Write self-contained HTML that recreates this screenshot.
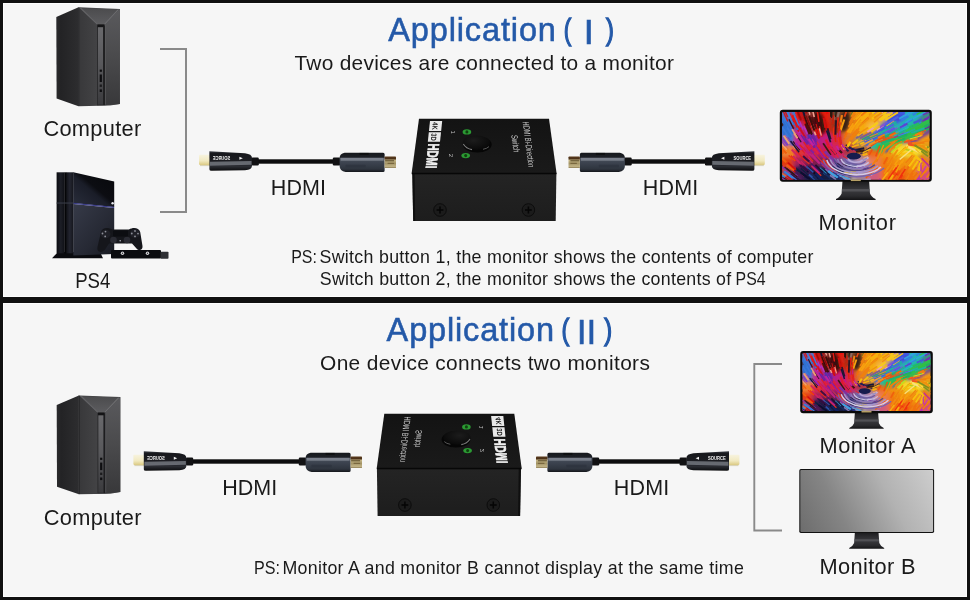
<!DOCTYPE html>
<html lang="en">
<head>
<meta charset="utf-8">
<title>HDMI Bi-Direction Switch - Application</title>
<style>
html,body{margin:0;padding:0;background:#111;}
body{width:970px;height:600px;background:#111;position:relative;overflow:hidden;font-family:"Liberation Sans", sans-serif;}
.panel{position:absolute;left:3px;width:964px;height:294px;box-sizing:border-box;background:#f6f6f6;border:1px solid #fdfdfd;}
#p1{top:3px;}
#p2{top:303px;}
svg{position:absolute;left:0;top:0;will-change:transform;}
text{font-family:"Liberation Sans", sans-serif;}
</style>
</head>
<body>
<div class="panel" id="p1"></div>
<div class="panel" id="p2"></div>
<svg width="970" height="600" viewBox="0 0 970 600">

<defs>
  <linearGradient id="tw_side" x1="0" y1="0" x2="1" y2="0">
    <stop offset="0" stop-color="#2b2b2d"/><stop offset=".2" stop-color="#232325"/><stop offset="1" stop-color="#2d2d2f"/>
  </linearGradient>
  <linearGradient id="tw_front" x1="0" y1="0" x2="1" y2="0">
    <stop offset="0" stop-color="#38383a"/><stop offset=".45" stop-color="#434345"/><stop offset=".66" stop-color="#4c4c4e"/><stop offset="1" stop-color="#3f3f41"/>
  </linearGradient>
  <linearGradient id="tw_rp" x1="0" y1="0" x2="0" y2="1">
    <stop offset="0" stop-color="#5a5a5d"/><stop offset=".5" stop-color="#4a4a4c"/><stop offset="1" stop-color="#38383a"/>
  </linearGradient>
  <linearGradient id="tw_v" x1="0" y1="0" x2="0" y2="1">
    <stop offset="0" stop-color="#4b4b4d"/><stop offset="1" stop-color="#5c5c5f"/>
  </linearGradient>
  <linearGradient id="tw_strip" x1="0" y1="0" x2="0" y2="1">
    <stop offset="0" stop-color="#6a6a6d"/><stop offset=".5" stop-color="#58585b"/><stop offset="1" stop-color="#3a3a3d"/>
  </linearGradient>
  <linearGradient id="ps_side" x1="0" y1="0" x2="1" y2="0">
    <stop offset="0" stop-color="#0b0c10"/><stop offset=".5" stop-color="#1c1e26"/><stop offset="1" stop-color="#0e0f14"/>
  </linearGradient>
  <linearGradient id="ps_side2" x1="0" y1="0" x2="1" y2="0">
    <stop offset="0" stop-color="#101116"/><stop offset=".5" stop-color="#232530"/><stop offset="1" stop-color="#14151b"/>
  </linearGradient>
  <linearGradient id="ps_top" x1="0" y1="1" x2="1" y2="0">
    <stop offset="0" stop-color="#2a2e3c"/><stop offset=".45" stop-color="#1a1d28"/><stop offset=".55" stop-color="#0c0d12"/><stop offset="1" stop-color="#07080b"/>
  </linearGradient>
  <linearGradient id="ps_bot" x1="0" y1="0" x2="1" y2="1">
    <stop offset="0" stop-color="#363a48"/><stop offset=".6" stop-color="#262934"/><stop offset="1" stop-color="#171920"/>
  </linearGradient>
  <linearGradient id="cb_cream" x1="0" y1="0" x2="0" y2="1">
    <stop offset="0" stop-color="#f7f3df"/><stop offset=".6" stop-color="#f1e9c0"/><stop offset="1" stop-color="#dccb84"/>
  </linearGradient>
  <linearGradient id="cb_gold" x1="0" y1="0" x2="0" y2="1">
    <stop offset="0" stop-color="#5a3a1c"/><stop offset=".2" stop-color="#4a3018"/><stop offset=".32" stop-color="#c8b888"/><stop offset=".6" stop-color="#a39466"/><stop offset=".85" stop-color="#c2b386"/><stop offset="1" stop-color="#8a7a52"/>
  </linearGradient>
  <linearGradient id="cb_left" x1="0" y1="0" x2="0" y2="1">
    <stop offset="0" stop-color="#3b3e45"/><stop offset=".12" stop-color="#17181c"/><stop offset=".5" stop-color="#1c1d22"/><stop offset=".78" stop-color="#2a2c32"/><stop offset="1" stop-color="#0c0c0e"/>
  </linearGradient>
  <linearGradient id="cb_right" x1="0" y1="0" x2="0" y2="1">
    <stop offset="0" stop-color="#16181c"/><stop offset=".24" stop-color="#1d2026"/><stop offset=".3" stop-color="#4c525e"/><stop offset=".5" stop-color="#3d4450"/><stop offset=".85" stop-color="#2e343e"/><stop offset="1" stop-color="#15171b"/>
  </linearGradient>
  <linearGradient id="sw_front" x1="0" y1="0" x2="0" y2="1">
    <stop offset="0" stop-color="#242424"/><stop offset="1" stop-color="#1d1d1d"/>
  </linearGradient>
  <linearGradient id="sw_top" x1="0" y1="0" x2="0" y2="1">
    <stop offset="0" stop-color="#131313"/><stop offset="1" stop-color="#1a1a1a"/>
  </linearGradient>
  <radialGradient id="sw_btn" cx=".4" cy=".35" r=".8">
    <stop offset="0" stop-color="#1c1c1c"/><stop offset="1" stop-color="#050505"/>
  </radialGradient>
  <linearGradient id="st_g" x1="0" y1="0" x2="0" y2="1">
    <stop offset="0" stop-color="#1a1a1c"/><stop offset=".5" stop-color="#3a3a3e"/><stop offset=".8" stop-color="#2a2a2d"/><stop offset="1" stop-color="#141416"/>
  </linearGradient>
  <linearGradient id="mon_gray" gradientUnits="userSpaceOnUse" x1="799" y1="532" x2="930.8" y2="462.6">
    <stop offset="0" stop-color="#6c6c6c"/><stop offset=".3" stop-color="#858585"/><stop offset=".65" stop-color="#b2b2b2"/><stop offset="1" stop-color="#cecece"/>
  </linearGradient>
  <filter id="wb_base" x="-20%" y="-30%" width="140%" height="160%"><feGaussianBlur stdDeviation="2.2"/></filter>
  <filter id="wb_band" x="-20%" y="-30%" width="140%" height="160%"><feGaussianBlur stdDeviation="1.6"/></filter>
  <filter id="wb_streak" x="-5%" y="-5%" width="110%" height="110%"><feGaussianBlur stdDeviation="0.6"/></filter>
</defs>
<path d="M160,49 H186 V212 H160" fill="none" stroke="#8a8a8a" stroke-width="2"/>
<path d="M782,364 H754.3 V530.5 H782" fill="none" stroke="#8a8a8a" stroke-width="1.9"/>

<g transform="translate(0,0)">
  <polygon points="56.3,17 78.5,7.3 78.5,106.2 56.6,98.6" fill="url(#tw_side)"/>
  <polygon points="78.5,7.3 119.9,9 119.9,104 110,105.6 78.5,106.2" fill="url(#tw_front)"/>
  <polygon points="79.5,8 119.3,9.6 105,24.5 97,24.5" fill="url(#tw_v)"/>
  <polygon points="79.5,8 81.5,8 98.2,24.5 97,24.5" fill="#6a6a6c" opacity=".7"/>
  <polygon points="119.3,9.6 117.6,9.5 103.8,24.5 105,24.5" fill="#77777a" opacity=".7"/>
  <polygon points="105,24.5 119.9,9 119.9,104 105,105.3" fill="url(#tw_rp)"/>
  <rect x="97" y="24.5" width="8" height="80.8" fill="#2b2b2d"/>
  <rect x="98" y="25.5" width="5" height="79" fill="url(#tw_strip)"/>
  <rect x="97.6" y="24.6" width="6.4" height="2.6" fill="#141416"/>
  <rect x="103.4" y="26" width="1.3" height="79" fill="#1d1d1f"/>
  <rect x="105" y="24.5" width="0.8" height="80" fill="#5c5c5f" opacity=".8"/>
  <rect x="78.1" y="7.5" width="1.1" height="98.5" fill="#1c1c1e" opacity=".8"/>
  <rect x="99.7" y="69.6" width="2.2" height="2.2" fill="#0e0e10"/>
  <rect x="99.7" y="74.5" width="2.2" height="7.5" fill="#0e0e10"/>
  <rect x="99.7" y="84.5" width="2.2" height="2.4" fill="#1b1b1d"/>
  <rect x="99.7" y="89.4" width="2.2" height="2.6" fill="#0e0e10"/>
</g>

<g>
  <!-- base -->
  <polygon points="52,258.2 58,252 100,252 103,258.2" fill="#0a0b0f"/>
  <!-- side slabs -->
  <rect x="56.6" y="172.3" width="8.2" height="81" fill="url(#ps_side)"/>
  <rect x="66" y="172.3" width="7.6" height="81" fill="url(#ps_side2)"/>
  <rect x="64.6" y="172.3" width="1.6" height="81" fill="#050608"/>
  <!-- front top half -->
  <polygon points="73.3,172.3 114.2,181.4 114.2,207 73.3,203" fill="url(#ps_top)"/>
  <!-- front bottom half -->
  <polygon points="73.3,204 114.2,208 114.2,254 73.3,255.5" fill="url(#ps_bot)"/>
  <polygon points="73.3,202.8 114.2,206.8 114.2,207.9 73.3,204" fill="#2a2c80" opacity=".9"/>
  <rect x="56.6" y="202.4" width="17" height="1.3" fill="#3a3d48" opacity=".8"/>
  <circle cx="112.6" cy="203.3" r="1.2" fill="#e8e8ee"/>
  <!-- controller -->
  <path d="M101,232 C102,227.5 108,227 112,229.5 L129,229.5 C133,227 139,227.5 140.2,232 L142.5,246 C143,250 139,251.5 136.5,248.5 L132,243.5 L109,243.5 L105,249.5 C102,253.5 96.5,252.5 97.5,247 Z" fill="#15161b"/>
  <ellipse cx="105.5" cy="234" rx="5" ry="4.3" fill="#1f2027"/>
  <ellipse cx="135" cy="233.5" rx="5" ry="4.3" fill="#1f2027"/>
  <circle cx="113.5" cy="240" r="3.3" fill="#2a2b33"/>
  <circle cx="127" cy="240" r="3.3" fill="#2a2b33"/>
  <rect x="113" y="230.5" width="15" height="6" rx="1" fill="#0c0d11"/>
  <circle cx="102.500" cy="233.500" r="0.9" fill="#8d8f98"/><circle cx="105.5" cy="231.6" r="0.9" fill="#8d8f98"/><circle cx="105.2" cy="236.400" r="0.9" fill="#8d8f98"/>
  <circle cx="131.8" cy="233.500" r="0.9" fill="#8d8f98"/><circle cx="135" cy="231" r="0.9" fill="#8d8f98"/><circle cx="138" cy="233.6" r="0.9" fill="#8d8f98"/><circle cx="135" cy="236.4" r="0.9" fill="#8d8f98"/>
  <circle cx="120.2" cy="240.7" r="0.8" fill="#b0b2ba"/>
  <!-- camera bar -->
  <rect x="111" y="250" width="50" height="8.6" rx="1" fill="#0b0c0f"/>
  <rect x="160.5" y="251.800" width="8" height="7" rx="0.8" fill="#2e2f33"/>
  <circle cx="122.500" cy="253.3" r="1.7" fill="#d8d8dc"/><circle cx="122.5" cy="253.300" r="0.7" fill="#333"/>
  <circle cx="147.5" cy="253.3" r="1.7" fill="#d8d8dc"/><circle cx="147.500" cy="253.3" r="0.7" fill="#333"/>
</g>
<g transform="translate(199,161.5)">
<rect x="58" y="-2.2" width="84.6" height="4.4" fill="#0d0d0e"/>
<rect x="52.5" y="-3.9" width="7.3" height="7.9" rx="1.2" fill="#111113"/>
<rect x="133.8" y="-3.9" width="7.5" height="7.900" rx="1.2" fill="#111113"/>
<rect x="0" y="-6.8" width="11.5" height="10.2" rx="0.8" fill="url(#cb_cream)"/>
<rect x="1" y="3.4" width="10" height="1.2" fill="#cfc6a0" opacity=".7"/>
<path d="M10.4,-10.2 L46,-8.200 Q53,-7.3 53,-3.600 L53,4.4 Q53,8 46,8.700 L12.5,9.3 Q10.4,9.3 10.4,7.800 Z" fill="url(#cb_left)"/>
<path d="M11,0.2 L52.5,-0.6 L52.5,3.2 L11,4.2 Z" fill="#7d818a" opacity=".75"/>
<path d="M145.6,-8.8 L184.1,-8.8 Q185.6,-8.8 185.6,-7.3 L185.6,9 Q185.6,10.5 184.1,10.5 L146.6,10.5 Q140.6,9.5 140.6,4.5 L140.6,-3.5 Q140.6,-8 145.6,-8.8 Z" fill="url(#cb_right)"/>
<rect x="141.6" y="-3.7" width="43" height="2.9" fill="#858b96" opacity=".8"/>
<rect x="160.6" y="-8.6" width="9" height="2" fill="#0b0c0e" opacity=".8"/>
<rect x="185.6" y="-5" width="11.4" height="11.6" rx="0.7" fill="url(#cb_gold)"/>
<rect x="186.1" y="-1.3" width="9" height="1.1" fill="#4a3a1c" opacity=".8"/>
<rect x="188.6" y="1.3" width="6.5" height="1" fill="#5a4622" opacity=".7"/>
<text x="0" y="0" transform="translate(31.3,-1.8) scale(-1,1)" font-family='"Liberation Sans", sans-serif' font-weight="700" font-size="4.6" fill="#f2f2f2" textLength="17.6" lengthAdjust="spacingAndGlyphs">SOURCE</text>
<polygon points="40.4,-4.8 43.8,-3.3 40.4,-1.7" fill="#f2f2f2"/>
<rect x="146.6" y="3.2" width="20" height="2.6" rx="0.6" fill="#2a303a" opacity=".55"/>
</g>

<g transform="translate(0,0)">
  <polygon points="412.3,173 556.4,173 555.7,220.9 413.2,220.9" fill="url(#sw_front)"/>
  <polygon points="412.3,173 414.6,173 415.2,220.9 413.2,220.9" fill="#0b0b0b" opacity=".8"/>
  <polygon points="419,118.7 549,118.7 556.6,173.6 411.6,173.6" fill="url(#sw_top)"/>
  <rect x="411.8" y="172.8" width="144.6" height="1.5" fill="#070707"/>
  <!-- screws -->
  <circle cx="440" cy="210" r="6.3" fill="#1b1b1b" stroke="#0c0c0c" stroke-width="1"/>
  <path d="M436.6,210 h6.8 M440,206.600 v6.8" stroke="#050505" stroke-width="1.5"/>
  <circle cx="528.4" cy="210" r="6.3" fill="#1b1b1b" stroke="#0c0c0c" stroke-width="1"/>
  <path d="M525,210 h6.8 M528.4,206.6 v6.8" stroke="#050505" stroke-width="1.5"/>
  <!-- logos -->
  <g transform="matrix(1,0,-0.105,1,18.3,0)">
    <rect x="424.400" y="121" width="12.2" height="9.9" fill="#e9e9e9"/>
    <text transform="translate(427.3,122.2) rotate(90)" font-family='"Liberation Sans", sans-serif' font-weight="700" font-size="7.5" fill="#222" textLength="7.6" lengthAdjust="spacingAndGlyphs">4K</text>
    <rect x="424.4" y="132.2" width="12.2" height="9.6" fill="#e9e9e9"/>
    <text transform="translate(427.3,133.2) rotate(90)" font-family='"Liberation Sans", sans-serif' font-weight="700" font-size="7.5" fill="#222" textLength="7.6" lengthAdjust="spacingAndGlyphs">3D</text>
    <text transform="translate(425.2,143.4) rotate(90)" font-family='"Liberation Sans", sans-serif' font-weight="700" font-size="15.5" fill="#f1f1f1" stroke="#f1f1f1" stroke-width="0.7" textLength="25" lengthAdjust="spacingAndGlyphs">HDMI</text>
  </g>
  <text transform="translate(450.6,130.4) rotate(90)" font-family='"Liberation Sans", sans-serif' font-size="6" fill="#bdbdbd">1</text>
  <text transform="translate(449.4,153.8) rotate(90)" font-family='"Liberation Sans", sans-serif' font-size="6" fill="#bdbdbd">2</text>
  <ellipse cx="466.9" cy="131.9" rx="4.3" ry="2.6" fill="#2b9a33"/>
  <ellipse cx="466.900" cy="131.9" rx="1.5" ry="1.600" fill="#10400f"/>
  <ellipse cx="465.7" cy="155.6" rx="4.3" ry="2.6" fill="#2b9a33"/>
  <ellipse cx="465.7" cy="155.600" rx="1.5" ry="1.6" fill="#10400f"/>
  <ellipse cx="477.3" cy="144.6" rx="14.4" ry="8" fill="#060606"/>
  <ellipse cx="476.3" cy="142.6" rx="13.6" ry="7.1" fill="url(#sw_btn)"/>
  <path d="M463.3,144 Q466,148.6 472,149.6" stroke="#9a9a9a" stroke-width="1.1" fill="none" opacity=".8"/>
  <path d="M483,149.3 Q487,148.6 489,146.600" stroke="#777" stroke-width="1" fill="none" opacity=".7"/>
  <g transform="matrix(1,0,0.13,1,-18.6,0)">
    <text transform="translate(525.4,121.6) rotate(90)" font-family='"Liberation Sans", sans-serif' font-size="9" fill="#cfcfcf" textLength="45.6" lengthAdjust="spacingAndGlyphs">HDMI Bi-Direction</text>
    <text transform="translate(512.4,135) rotate(90)" font-family='"Liberation Sans", sans-serif' font-size="9" fill="#cfcfcf" textLength="17.2" lengthAdjust="spacingAndGlyphs">Switch</text>
  </g>
</g>
<g transform="translate(764.8,161.5) scale(-1,1)">
<rect x="58" y="-2.2" width="83.9" height="4.4" fill="#0d0d0e"/>
<rect x="52.5" y="-3.9" width="7.3" height="7.9" rx="1.2" fill="#111113"/>
<rect x="133.1" y="-3.9" width="7.5" height="7.900" rx="1.2" fill="#111113"/>
<rect x="0" y="-6.8" width="11.5" height="10.2" rx="0.8" fill="url(#cb_cream)"/>
<rect x="1" y="3.4" width="10" height="1.2" fill="#cfc6a0" opacity=".7"/>
<path d="M10.4,-10.2 L46,-8.200 Q53,-7.3 53,-3.600 L53,4.4 Q53,8 46,8.700 L12.5,9.3 Q10.4,9.3 10.4,7.800 Z" fill="url(#cb_left)"/>
<path d="M11,0.2 L52.5,-0.6 L52.5,3.2 L11,4.2 Z" fill="#7d818a" opacity=".75"/>
<path d="M144.9,-8.8 L183.4,-8.8 Q184.9,-8.8 184.9,-7.3 L184.9,9 Q184.9,10.5 183.4,10.5 L145.9,10.5 Q139.9,9.5 139.9,4.5 L139.9,-3.5 Q139.9,-8 144.9,-8.8 Z" fill="url(#cb_right)"/>
<rect x="140.9" y="-3.7" width="43" height="2.9" fill="#858b96" opacity=".8"/>
<rect x="159.9" y="-8.6" width="9" height="2" fill="#0b0c0e" opacity=".8"/>
<rect x="184.9" y="-5" width="11.4" height="11.6" rx="0.7" fill="url(#cb_gold)"/>
<rect x="185.4" y="-1.3" width="9" height="1.1" fill="#4a3a1c" opacity=".8"/>
<rect x="187.9" y="1.3" width="6.5" height="1" fill="#5a4622" opacity=".7"/>
<text x="0" y="0" transform="translate(31.3,-1.8) scale(-1,1)" font-family='"Liberation Sans", sans-serif' font-weight="700" font-size="4.6" fill="#f2f2f2" textLength="17.6" lengthAdjust="spacingAndGlyphs">SOURCE</text>
<polygon points="40.4,-4.8 43.8,-3.3 40.4,-1.7" fill="#f2f2f2"/>
<rect x="145.9" y="3.2" width="20" height="2.6" rx="0.6" fill="#2a303a" opacity=".55"/>
</g>
<path d="M842.5,180.8 L869.1,180.8 L870.0,193.4 Q871.2,196.8 875.6,199.0 L875.6,199.9 L836.0,199.9 L836.0,199.0 Q840.4,196.8 841.6,193.4 Z" fill="url(#st_g)"/>
<rect x="841.9" y="189.0" width="27.9" height="2.5" fill="#5a5a5e" opacity=".75"/>
<rect x="779.8" y="109.8" width="152" height="72" rx="3" fill="#0a0a0a"/>
<clipPath id="clipm1"><rect x="782.1" y="111.9" width="147.4" height="67.8" rx="1.3"/></clipPath>
<g clip-path="url(#clipm1)"><g transform="translate(781.1999999999999,111.2) scale(0.9947,0.9886)">
<g filter="url(#wb_base)"><rect x="-12.3" y="-12.3" width="25.1" height="24.3" fill="#7856a6"/><rect x="12.2" y="-12.3" width="13.1" height="24.3" fill="#c81414"/><rect x="24.7" y="-12.3" width="13.1" height="24.3" fill="#89322e"/><rect x="37.2" y="-12.3" width="13.1" height="24.3" fill="#e61a10"/><rect x="49.7" y="-12.3" width="13.1" height="24.3" fill="#743c2c"/><rect x="62.2" y="-12.3" width="13.1" height="24.3" fill="#cc6614"/><rect x="74.7" y="-12.3" width="13.1" height="24.3" fill="#f39010"/><rect x="87.2" y="-12.3" width="13.1" height="24.3" fill="#f3a510"/><rect x="99.7" y="-12.3" width="13.1" height="24.3" fill="#dca070"/><rect x="112.2" y="-12.3" width="13.1" height="24.3" fill="#4550d8"/><rect x="124.7" y="-12.3" width="13.1" height="24.3" fill="#2ba0cb"/><rect x="137.2" y="-12.3" width="25.1" height="24.3" fill="#408090"/><rect x="-12.3" y="11.4" width="25.1" height="12.3" fill="#5560d0"/><rect x="12.2" y="11.4" width="13.1" height="12.3" fill="#bc226e"/><rect x="24.7" y="11.4" width="13.1" height="12.3" fill="#a43230"/><rect x="37.2" y="11.4" width="13.1" height="12.3" fill="#e31510"/><rect x="49.7" y="11.4" width="13.1" height="12.3" fill="#9d3614"/><rect x="62.2" y="11.4" width="13.1" height="12.3" fill="#f38510"/><rect x="74.7" y="11.4" width="13.1" height="12.3" fill="#f5ab10"/><rect x="87.2" y="11.4" width="13.1" height="12.3" fill="#f5bb45"/><rect x="99.7" y="11.4" width="13.1" height="12.3" fill="#7a8898"/><rect x="112.2" y="11.4" width="13.1" height="12.3" fill="#25abb5"/><rect x="124.7" y="11.4" width="13.1" height="12.3" fill="#25bb70"/><rect x="137.2" y="11.4" width="25.1" height="12.3" fill="#688454"/><rect x="-12.3" y="23.0" width="25.1" height="12.3" fill="#ac5c9c"/><rect x="12.2" y="23.0" width="13.1" height="12.3" fill="#c02590"/><rect x="24.7" y="23.0" width="13.1" height="12.3" fill="#8025a5"/><rect x="37.2" y="23.0" width="13.1" height="12.3" fill="#c01b80"/><rect x="49.7" y="23.0" width="13.1" height="12.3" fill="#d82540"/><rect x="62.2" y="23.0" width="13.1" height="12.3" fill="#de782c"/><rect x="74.7" y="23.0" width="13.1" height="12.3" fill="#a29854"/><rect x="87.2" y="23.0" width="13.1" height="12.3" fill="#88985c"/><rect x="99.7" y="23.0" width="13.1" height="12.3" fill="#ab8030"/><rect x="112.2" y="23.0" width="13.1" height="12.3" fill="#907055"/><rect x="124.7" y="23.0" width="13.1" height="12.3" fill="#bb5545"/><rect x="137.2" y="23.0" width="25.1" height="12.3" fill="#f39b15"/><rect x="-12.3" y="34.7" width="25.1" height="12.3" fill="#f08535"/><rect x="12.2" y="34.7" width="13.1" height="12.3" fill="#e03535"/><rect x="24.7" y="34.7" width="13.1" height="12.3" fill="#b51d75"/><rect x="37.2" y="34.7" width="13.1" height="12.3" fill="#c01d65"/><rect x="49.7" y="34.7" width="13.1" height="12.3" fill="#d0206b"/><rect x="62.2" y="34.7" width="13.1" height="12.3" fill="#ac303c"/><rect x="74.7" y="34.7" width="13.1" height="12.3" fill="#ba7020"/><rect x="87.2" y="34.7" width="13.1" height="12.3" fill="#f06b10"/><rect x="99.7" y="34.7" width="13.1" height="12.3" fill="#f39b10"/><rect x="112.2" y="34.7" width="13.1" height="12.3" fill="#e3bb15"/><rect x="124.7" y="34.7" width="13.1" height="12.3" fill="#e6d434"/><rect x="137.2" y="34.7" width="25.1" height="12.3" fill="#cba01b"/><rect x="-12.3" y="46.4" width="25.1" height="12.3" fill="#e53b10"/><rect x="12.2" y="46.4" width="13.1" height="12.3" fill="#a0205c"/><rect x="24.7" y="46.4" width="13.1" height="12.3" fill="#801e4c"/><rect x="37.2" y="46.4" width="13.1" height="12.3" fill="#64265c"/><rect x="49.7" y="46.4" width="13.1" height="12.3" fill="#743c84"/><rect x="62.2" y="46.4" width="13.1" height="12.3" fill="#7c74ac"/><rect x="74.7" y="46.4" width="13.1" height="12.3" fill="#b48cb0"/><rect x="87.2" y="46.4" width="13.1" height="12.3" fill="#eb7b4b"/><rect x="99.7" y="46.4" width="13.1" height="12.3" fill="#f07b10"/><rect x="112.2" y="46.4" width="13.1" height="12.3" fill="#f39010"/><rect x="124.7" y="46.4" width="13.1" height="12.3" fill="#f39b10"/><rect x="137.2" y="46.4" width="25.1" height="12.3" fill="#e37b3b"/><rect x="-12.3" y="58.0" width="25.1" height="24.3" fill="#984c70"/><rect x="12.2" y="58.0" width="13.1" height="24.3" fill="#521d58"/><rect x="24.7" y="58.0" width="13.1" height="24.3" fill="#182654"/><rect x="37.2" y="58.0" width="13.1" height="24.3" fill="#194478"/><rect x="49.7" y="58.0" width="13.1" height="24.3" fill="#3c5a98"/><rect x="62.2" y="58.0" width="13.1" height="24.3" fill="#b0a0a0"/><rect x="74.7" y="58.0" width="13.1" height="24.3" fill="#a08094"/><rect x="87.2" y="58.0" width="13.1" height="24.3" fill="#d05b7b"/><rect x="99.7" y="58.0" width="13.1" height="24.3" fill="#f37010"/><rect x="112.2" y="58.0" width="13.1" height="24.3" fill="#f05010"/><rect x="124.7" y="58.0" width="13.1" height="24.3" fill="#f08010"/><rect x="137.2" y="58.0" width="25.1" height="24.3" fill="#d55075"/></g>
<g filter="url(#wb_band)"><path d="M84,33 Q104,20 124,-2" stroke="#3d58e0" stroke-width="9" fill="none"/><path d="M90,36 Q116,24 142,-2" stroke="#22b6b0" stroke-width="8" fill="none"/><path d="M96,39 Q126,28 154,6" stroke="#2fbf4c" stroke-width="9" fill="none"/><path d="M104,41 Q130,34 154,17" stroke="#6a30a8" stroke-width="3" fill="none"/><ellipse cx="46" cy="65" rx="25" ry="8" fill="#141a42"/><ellipse cx="24" cy="60" rx="12" ry="5" fill="#3a1450"/><ellipse cx="128" cy="39" rx="17" ry="6" fill="#f8d62c"/><ellipse cx="38" cy="12" rx="6" ry="12" fill="#3a0c0a" transform="rotate(-12 38 12)"/><ellipse cx="64" cy="10" rx="5" ry="11" fill="#3a2418" transform="rotate(8 64 10)"/><ellipse cx="5" cy="18" rx="6" ry="16" fill="#3a78d8" transform="rotate(-14 5 18)"/></g>
<g filter="url(#wb_streak)"><line x1="29.8" y1="33.5" x2="37.4" y2="43.4" stroke="#e02040" stroke-width="2.3"/><line x1="78.2" y1="15.1" x2="87.8" y2="6.8" stroke="#f09010" stroke-width="1.3"/><line x1="126.0" y1="33.8" x2="140.4" y2="39.8" stroke="#f8e020" stroke-width="1.2"/><line x1="119.2" y1="20.2" x2="133.1" y2="13.9" stroke="#20b0a0" stroke-width="1.6"/><line x1="61.7" y1="68.0" x2="70.8" y2="70.0" stroke="#9090b0" stroke-width="2.0"/><line x1="125.2" y1="30.3" x2="137.1" y2="27.4" stroke="#f08010" stroke-width="2.3"/><line x1="139.7" y1="66.7" x2="145.9" y2="58.9" stroke="#c030b0" stroke-width="1.8"/><line x1="9.9" y1="44.4" x2="15.0" y2="49.9" stroke="#e02020" stroke-width="2.2"/><line x1="5.8" y1="55.1" x2="14.2" y2="61.8" stroke="#d01010" stroke-width="1.3"/><line x1="109.0" y1="28.7" x2="123.6" y2="22.2" stroke="#a03090" stroke-width="1.5"/><line x1="85.8" y1="2.8" x2="95.8" y2="-5.9" stroke="#f0a010" stroke-width="2.4"/><line x1="52.2" y1="12.9" x2="53.6" y2="0.7" stroke="#c02010" stroke-width="1.8"/><line x1="139.4" y1="34.0" x2="149.9" y2="37.1" stroke="#f0c020" stroke-width="1.4"/><line x1="44.8" y1="53.3" x2="54.3" y2="61.7" stroke="#8060b0" stroke-width="1.2"/><line x1="142.6" y1="0.1" x2="151.2" y2="-4.8" stroke="#7030b0" stroke-width="1.6"/><line x1="51.7" y1="39.5" x2="56.9" y2="45.4" stroke="#c020a0" stroke-width="1.3"/><line x1="96.0" y1="19.2" x2="102.6" y2="14.9" stroke="#f0a0b0" stroke-width="1.5"/><line x1="123.4" y1="31.4" x2="132.0" y2="29.0" stroke="#f05020" stroke-width="1.8"/><line x1="116.3" y1="1.1" x2="124.4" y2="-3.8" stroke="#4050d8" stroke-width="2.1"/><line x1="117.5" y1="25.3" x2="129.3" y2="20.6" stroke="#3090e0" stroke-width="1.5"/><line x1="-3.2" y1="22.0" x2="6.5" y2="34.5" stroke="#8040c0" stroke-width="2.0"/><line x1="63.9" y1="53.4" x2="72.4" y2="56.1" stroke="#303070" stroke-width="2.2"/><line x1="11.6" y1="8.3" x2="18.3" y2="21.8" stroke="#a040d0" stroke-width="2.3"/><line x1="-4.9" y1="51.9" x2="1.1" y2="56.4" stroke="#3a1a0c" stroke-width="2.3"/><line x1="12.4" y1="69.0" x2="19.2" y2="74.6" stroke="#301040" stroke-width="1.8"/><line x1="18.6" y1="53.6" x2="27.5" y2="61.9" stroke="#101030" stroke-width="1.6"/><line x1="32.8" y1="41.7" x2="37.6" y2="46.8" stroke="#8020a0" stroke-width="1.2"/><line x1="13.4" y1="-3.9" x2="18.0" y2="6.5" stroke="#d81010" stroke-width="1.3"/><line x1="56.5" y1="22.3" x2="57.5" y2="30.4" stroke="#c02080" stroke-width="1.1"/><line x1="117.6" y1="43.4" x2="125.8" y2="37.0" stroke="#c0e020" stroke-width="2.1"/><line x1="62.5" y1="30.2" x2="65.8" y2="19.9" stroke="#f06010" stroke-width="1.1"/><line x1="34.1" y1="35.8" x2="43.3" y2="48.2" stroke="#d01860" stroke-width="1.6"/><line x1="114.3" y1="19.8" x2="127.7" y2="13.1" stroke="#20b090" stroke-width="2.1"/><line x1="109.1" y1="43.5" x2="114.8" y2="36.4" stroke="#f08010" stroke-width="1.6"/><line x1="82.9" y1="48.4" x2="87.4" y2="46.4" stroke="#f0b080" stroke-width="2.2"/><line x1="124.9" y1="75.4" x2="131.4" y2="65.2" stroke="#f08010" stroke-width="1.8"/><line x1="80.8" y1="6.4" x2="86.4" y2="1.2" stroke="#f09010" stroke-width="2.4"/><line x1="64.3" y1="49.4" x2="71.2" y2="51.8" stroke="#9080c0" stroke-width="2.4"/><line x1="27.9" y1="64.0" x2="38.4" y2="73.0" stroke="#2a50a8" stroke-width="2.0"/><line x1="108.8" y1="11.0" x2="120.9" y2="3.9" stroke="#4050d8" stroke-width="2.0"/><line x1="88.3" y1="44.5" x2="91.8" y2="38.7" stroke="#f05010" stroke-width="1.6"/><line x1="52.8" y1="16.7" x2="53.1" y2="25.5" stroke="#f03010" stroke-width="1.9"/><line x1="92.9" y1="2.3" x2="105.3" y2="-6.0" stroke="#9050d0" stroke-width="1.2"/><line x1="133.3" y1="43.6" x2="140.3" y2="49.5" stroke="#f0c020" stroke-width="1.3"/><line x1="22.8" y1="48.5" x2="28.3" y2="53.4" stroke="#e03020" stroke-width="1.3"/><line x1="117.3" y1="8.8" x2="127.2" y2="1.6" stroke="#6040d0" stroke-width="2.0"/><line x1="46.6" y1="24.8" x2="51.2" y2="35.3" stroke="#c01890" stroke-width="1.3"/><line x1="132.2" y1="3.9" x2="139.0" y2="-0.0" stroke="#3080e0" stroke-width="2.3"/><line x1="113.7" y1="60.8" x2="122.4" y2="49.4" stroke="#f8a010" stroke-width="1.2"/><line x1="45.4" y1="34.8" x2="53.6" y2="45.5" stroke="#e02030" stroke-width="2.0"/><line x1="22.1" y1="43.3" x2="27.4" y2="49.4" stroke="#e02040" stroke-width="1.8"/><line x1="95.8" y1="51.1" x2="100.0" y2="42.2" stroke="#f07010" stroke-width="1.3"/><line x1="106.8" y1="59.0" x2="111.4" y2="50.7" stroke="#f09010" stroke-width="1.2"/><line x1="68.8" y1="21.9" x2="74.5" y2="12.4" stroke="#f8a010" stroke-width="2.2"/><line x1="67.1" y1="73.6" x2="82.3" y2="73.7" stroke="#a090c0" stroke-width="1.2"/><line x1="83.4" y1="49.5" x2="87.8" y2="47.0" stroke="#c0b0e0" stroke-width="1.6"/><line x1="74.9" y1="40.9" x2="83.8" y2="39.8" stroke="#3a1a0c" stroke-width="2.3"/><line x1="79.6" y1="42.7" x2="87.0" y2="40.3" stroke="#102050" stroke-width="1.1"/><line x1="91.7" y1="7.8" x2="100.6" y2="1.0" stroke="#f09010" stroke-width="1.4"/><line x1="-2.8" y1="29.1" x2="6.5" y2="41.0" stroke="#f0a070" stroke-width="1.3"/><line x1="91.7" y1="2.2" x2="97.3" y2="-2.3" stroke="#f09010" stroke-width="1.5"/><line x1="45.6" y1="45.2" x2="55.0" y2="55.0" stroke="#e03020" stroke-width="1.5"/><line x1="138.6" y1="68.5" x2="147.9" y2="57.9" stroke="#f08010" stroke-width="1.6"/><line x1="102.2" y1="28.6" x2="112.8" y2="24.5" stroke="#f05010" stroke-width="1.1"/><line x1="100.4" y1="32.0" x2="110.1" y2="28.4" stroke="#f05010" stroke-width="1.8"/><line x1="29.8" y1="-9.5" x2="32.9" y2="1.9" stroke="#5a1010" stroke-width="1.3"/><line x1="86.1" y1="36.6" x2="90.6" y2="33.9" stroke="#e08060" stroke-width="2.2"/><line x1="46.0" y1="-5.1" x2="46.4" y2="2.2" stroke="#f01010" stroke-width="2.4"/><line x1="7.0" y1="28.2" x2="14.8" y2="37.8" stroke="#f0a070" stroke-width="2.1"/><line x1="148.0" y1="73.0" x2="154.1" y2="65.9" stroke="#f08010" stroke-width="2.2"/><line x1="50.3" y1="6.9" x2="50.7" y2="-0.3" stroke="#2a1426" stroke-width="1.8"/><line x1="22.6" y1="31.2" x2="29.2" y2="40.3" stroke="#e02020" stroke-width="1.6"/><line x1="53.9" y1="52.6" x2="58.9" y2="56.7" stroke="#102060" stroke-width="1.8"/><line x1="77.3" y1="57.5" x2="84.3" y2="55.9" stroke="#b0a0d0" stroke-width="2.3"/><line x1="59.7" y1="19.4" x2="63.4" y2="8.4" stroke="#f8a010" stroke-width="2.1"/><line x1="103.8" y1="73.2" x2="108.4" y2="66.9" stroke="#f07010" stroke-width="2.0"/><line x1="43.2" y1="38.5" x2="50.0" y2="47.2" stroke="#e02030" stroke-width="2.3"/><line x1="47.6" y1="20.1" x2="49.8" y2="29.6" stroke="#a020c0" stroke-width="1.7"/><line x1="26.9" y1="47.0" x2="31.6" y2="52.4" stroke="#c02080" stroke-width="1.4"/><line x1="26.0" y1="34.1" x2="35.5" y2="45.6" stroke="#e02040" stroke-width="2.1"/><line x1="88.4" y1="3.9" x2="100.3" y2="-5.4" stroke="#f09010" stroke-width="1.2"/><line x1="26.2" y1="56.5" x2="36.2" y2="64.9" stroke="#101020" stroke-width="2.1"/><line x1="138.6" y1="31.7" x2="152.0" y2="29.5" stroke="#f08010" stroke-width="1.2"/><line x1="70.7" y1="4.9" x2="74.4" y2="-1.7" stroke="#f08010" stroke-width="1.8"/><line x1="124.7" y1="2.9" x2="132.1" y2="-1.2" stroke="#20c0a0" stroke-width="2.3"/><line x1="131.1" y1="77.1" x2="137.3" y2="68.8" stroke="#f09010" stroke-width="1.3"/><line x1="53.5" y1="62.8" x2="67.8" y2="68.6" stroke="#a090c0" stroke-width="1.3"/><line x1="106.3" y1="21.2" x2="113.9" y2="16.7" stroke="#5060e0" stroke-width="1.7"/><line x1="67.6" y1="16.1" x2="72.4" y2="6.6" stroke="#f08010" stroke-width="1.2"/><line x1="114.1" y1="54.1" x2="118.9" y2="47.2" stroke="#f8a010" stroke-width="1.5"/><line x1="74.7" y1="39.2" x2="83.5" y2="37.4" stroke="#181838" stroke-width="2.1"/><line x1="31.1" y1="56.2" x2="37.6" y2="61.7" stroke="#c02080" stroke-width="1.2"/><line x1="113.8" y1="34.2" x2="121.6" y2="30.5" stroke="#f07010" stroke-width="1.1"/><line x1="49.0" y1="6.5" x2="49.9" y2="-6.5" stroke="#f03010" stroke-width="1.7"/><line x1="49.6" y1="5.4" x2="49.7" y2="-8.8" stroke="#e81810" stroke-width="1.4"/><line x1="113.9" y1="60.6" x2="117.8" y2="54.6" stroke="#f05010" stroke-width="1.2"/><line x1="0.3" y1="56.1" x2="10.8" y2="63.2" stroke="#8030b0" stroke-width="1.5"/><line x1="12.8" y1="56.1" x2="23.3" y2="65.7" stroke="#a01c50" stroke-width="1.7"/><line x1="16.5" y1="14.0" x2="24.6" y2="27.1" stroke="#d01020" stroke-width="1.9"/><line x1="83.4" y1="40.9" x2="90.1" y2="36.9" stroke="#102050" stroke-width="1.6"/><line x1="134.4" y1="75.1" x2="140.6" y2="66.7" stroke="#f08010" stroke-width="2.2"/><line x1="36.0" y1="67.7" x2="41.6" y2="72.5" stroke="#101840" stroke-width="1.6"/><line x1="131.4" y1="33.3" x2="144.8" y2="35.9" stroke="#f09010" stroke-width="2.2"/><line x1="118.6" y1="0.7" x2="131.9" y2="-7.9" stroke="#6040d0" stroke-width="1.7"/><line x1="81.1" y1="12.4" x2="87.7" y2="6.8" stroke="#f07010" stroke-width="2.4"/><line x1="93.2" y1="11.1" x2="103.2" y2="3.1" stroke="#f09010" stroke-width="1.3"/><line x1="73.7" y1="14.0" x2="83.9" y2="1.7" stroke="#f8b010" stroke-width="1.5"/><line x1="17.6" y1="2.6" x2="20.3" y2="9.2" stroke="#d81010" stroke-width="1.6"/><line x1="69.3" y1="5.3" x2="73.9" y2="-3.3" stroke="#6a7a20" stroke-width="1.1"/><line x1="112.0" y1="60.5" x2="116.4" y2="53.5" stroke="#f8a010" stroke-width="1.7"/><line x1="109.2" y1="22.6" x2="121.9" y2="15.6" stroke="#3090e0" stroke-width="1.3"/><line x1="27.2" y1="-3.3" x2="28.7" y2="3.6" stroke="#5a1010" stroke-width="2.2"/><line x1="148.6" y1="44.9" x2="156.8" y2="54.0" stroke="#f08010" stroke-width="1.5"/><line x1="27.5" y1="26.2" x2="33.6" y2="37.0" stroke="#7020a0" stroke-width="2.4"/><line x1="128.3" y1="65.9" x2="136.2" y2="56.4" stroke="#f07010" stroke-width="1.4"/><line x1="105.9" y1="18.0" x2="116.4" y2="12.7" stroke="#20b0a0" stroke-width="2.2"/><line x1="76.2" y1="32.2" x2="82.8" y2="28.7" stroke="#f0a030" stroke-width="1.5"/><line x1="55.0" y1="19.8" x2="57.6" y2="5.1" stroke="#e02010" stroke-width="1.7"/><line x1="101.6" y1="27.5" x2="115.2" y2="20.9" stroke="#f05010" stroke-width="2.0"/><line x1="71.7" y1="24.2" x2="76.7" y2="18.3" stroke="#f07010" stroke-width="1.5"/><line x1="-4.1" y1="33.2" x2="5.4" y2="42.8" stroke="#f06010" stroke-width="2.1"/><line x1="44.6" y1="36.0" x2="54.6" y2="47.2" stroke="#d01860" stroke-width="1.5"/><line x1="120.5" y1="43.5" x2="131.8" y2="42.0" stroke="#f8c010" stroke-width="2.4"/><line x1="16.6" y1="8.3" x2="19.7" y2="15.5" stroke="#9030c0" stroke-width="2.4"/><line x1="6.3" y1="26.4" x2="12.1" y2="34.5" stroke="#6050c0" stroke-width="2.3"/><line x1="7.5" y1="44.6" x2="14.2" y2="50.3" stroke="#f04010" stroke-width="1.6"/><line x1="91.4" y1="2.1" x2="103.3" y2="-6.0" stroke="#f8c818" stroke-width="2.2"/><line x1="58.6" y1="27.7" x2="58.5" y2="18.0" stroke="#e02020" stroke-width="2.3"/><line x1="107.6" y1="66.1" x2="112.3" y2="59.7" stroke="#f07010" stroke-width="1.7"/><line x1="72.1" y1="61.6" x2="78.3" y2="61.7" stroke="#c0b0d0" stroke-width="2.2"/><line x1="3.0" y1="24.2" x2="7.0" y2="30.5" stroke="#f0a070" stroke-width="2.4"/><line x1="27.1" y1="15.6" x2="30.5" y2="23.8" stroke="#801010" stroke-width="2.0"/><line x1="19.8" y1="50.7" x2="27.7" y2="58.4" stroke="#d02060" stroke-width="1.2"/><line x1="127.4" y1="33.5" x2="136.3" y2="34.9" stroke="#f05020" stroke-width="2.2"/><line x1="45.1" y1="69.7" x2="56.2" y2="77.6" stroke="#102050" stroke-width="1.9"/><line x1="77.2" y1="62.6" x2="81.6" y2="62.1" stroke="#b0a0d0" stroke-width="1.6"/><line x1="91.8" y1="54.4" x2="97.1" y2="47.1" stroke="#f08010" stroke-width="1.8"/><line x1="123.9" y1="59.9" x2="132.3" y2="48.8" stroke="#f08010" stroke-width="1.6"/><line x1="22.9" y1="15.2" x2="26.5" y2="22.9" stroke="#b030c0" stroke-width="2.3"/><line x1="79.4" y1="33.2" x2="83.6" y2="31.4" stroke="#f8c010" stroke-width="1.7"/><line x1="72.5" y1="13.8" x2="79.1" y2="4.3" stroke="#f08010" stroke-width="1.6"/><line x1="38.4" y1="15.2" x2="40.9" y2="25.8" stroke="#e81010" stroke-width="1.4"/><line x1="22.3" y1="37.1" x2="28.5" y2="44.0" stroke="#c01880" stroke-width="1.6"/><line x1="9.6" y1="61.5" x2="16.2" y2="66.0" stroke="#8030b0" stroke-width="2.2"/><line x1="-1.0" y1="29.9" x2="6.4" y2="38.7" stroke="#8040c0" stroke-width="2.0"/><line x1="120.0" y1="18.0" x2="126.2" y2="14.2" stroke="#3090e0" stroke-width="1.7"/><line x1="116.6" y1="9.0" x2="125.4" y2="3.5" stroke="#4050d8" stroke-width="1.2"/><line x1="111.1" y1="72.5" x2="116.6" y2="63.2" stroke="#f03010" stroke-width="1.5"/><line x1="43.2" y1="55.1" x2="55.2" y2="64.1" stroke="#e04060" stroke-width="1.3"/><line x1="5.3" y1="54.6" x2="12.9" y2="59.9" stroke="#f06010" stroke-width="2.0"/><line x1="36.8" y1="46.9" x2="44.2" y2="54.1" stroke="#8030a0" stroke-width="1.2"/><line x1="-6.0" y1="33.8" x2="1.6" y2="41.8" stroke="#f06010" stroke-width="2.1"/><line x1="28.9" y1="22.9" x2="35.7" y2="34.0" stroke="#7020a0" stroke-width="1.4"/><line x1="57.2" y1="38.9" x2="63.1" y2="44.9" stroke="#d02060" stroke-width="1.9"/><line x1="108.1" y1="40.4" x2="116.3" y2="33.0" stroke="#f08010" stroke-width="1.8"/><line x1="141.5" y1="72.3" x2="147.3" y2="66.1" stroke="#f08010" stroke-width="1.6"/><line x1="11.9" y1="30.5" x2="18.7" y2="39.4" stroke="#2a1426" stroke-width="1.1"/><line x1="129.8" y1="71.1" x2="136.8" y2="62.1" stroke="#f07010" stroke-width="2.1"/><line x1="42.3" y1="36.4" x2="47.4" y2="43.5" stroke="#d01860" stroke-width="1.2"/><line x1="77.0" y1="56.5" x2="82.7" y2="55.5" stroke="#8040a0" stroke-width="2.2"/><line x1="70.2" y1="28.6" x2="78.5" y2="19.9" stroke="#f08010" stroke-width="1.6"/><line x1="86.0" y1="2.9" x2="96.1" y2="-6.4" stroke="#f8c010" stroke-width="1.4"/><line x1="35.4" y1="30.1" x2="39.3" y2="36.6" stroke="#e02040" stroke-width="1.4"/><line x1="88.0" y1="18.0" x2="97.1" y2="11.6" stroke="#f8d010" stroke-width="1.7"/><line x1="81.2" y1="28.7" x2="93.1" y2="22.1" stroke="#30a070" stroke-width="1.5"/><line x1="30.7" y1="6.2" x2="33.5" y2="16.5" stroke="#500a10" stroke-width="1.7"/><line x1="81.8" y1="44.6" x2="86.7" y2="43.0" stroke="#f8b010" stroke-width="2.3"/><line x1="105.3" y1="77.6" x2="112.0" y2="67.2" stroke="#f07010" stroke-width="2.3"/><line x1="127.4" y1="71.8" x2="134.8" y2="61.6" stroke="#f08010" stroke-width="1.7"/><line x1="74.0" y1="2.4" x2="80.4" y2="-5.9" stroke="#f8b010" stroke-width="2.4"/><line x1="3.3" y1="61.0" x2="15.8" y2="69.5" stroke="#3080e0" stroke-width="1.5"/><line x1="25.4" y1="32.8" x2="34.8" y2="43.8" stroke="#e02040" stroke-width="1.4"/><line x1="35.3" y1="35.3" x2="44.5" y2="48.0" stroke="#9020a0" stroke-width="2.3"/><line x1="80.8" y1="8.5" x2="87.5" y2="1.7" stroke="#f8b010" stroke-width="2.3"/><line x1="135.2" y1="22.9" x2="148.3" y2="17.6" stroke="#20b060" stroke-width="2.1"/><line x1="111.6" y1="46.9" x2="116.5" y2="39.9" stroke="#f8c010" stroke-width="1.5"/><line x1="42.2" y1="32.5" x2="49.9" y2="44.2" stroke="#3a1a0c" stroke-width="1.7"/><line x1="68.6" y1="11.7" x2="75.9" y2="-0.9" stroke="#f08010" stroke-width="1.4"/><line x1="71.6" y1="33.5" x2="77.1" y2="29.0" stroke="#f8c010" stroke-width="2.0"/><line x1="108.1" y1="76.9" x2="116.8" y2="65.2" stroke="#f07010" stroke-width="2.2"/><line x1="1.2" y1="20.8" x2="7.6" y2="30.3" stroke="#8040c0" stroke-width="1.1"/><line x1="62.3" y1="45.6" x2="66.9" y2="48.1" stroke="#e02030" stroke-width="1.2"/><line x1="42.9" y1="53.1" x2="54.3" y2="63.6" stroke="#e03020" stroke-width="1.4"/><line x1="109.8" y1="49.9" x2="117.2" y2="38.8" stroke="#f09010" stroke-width="1.9"/><line x1="109.0" y1="32.0" x2="121.4" y2="27.9" stroke="#f07010" stroke-width="1.3"/><line x1="119.8" y1="67.3" x2="125.0" y2="58.8" stroke="#f03010" stroke-width="2.1"/><line x1="136.0" y1="35.9" x2="142.7" y2="39.7" stroke="#f0c020" stroke-width="2.3"/><line x1="84.0" y1="29.9" x2="95.8" y2="25.2" stroke="#e08060" stroke-width="1.1"/><line x1="63.6" y1="5.6" x2="67.7" y2="-5.1" stroke="#e84010" stroke-width="1.8"/><line x1="122.3" y1="13.6" x2="132.4" y2="8.4" stroke="#3080e0" stroke-width="1.7"/><line x1="24.9" y1="9.4" x2="31.0" y2="23.6" stroke="#3a1212" stroke-width="1.9"/><line x1="98.4" y1="8.7" x2="106.9" y2="1.8" stroke="#f8c818" stroke-width="1.7"/><line x1="116.4" y1="22.9" x2="125.3" y2="18.8" stroke="#20b090" stroke-width="2.4"/><line x1="33.0" y1="8.3" x2="35.0" y2="15.1" stroke="#500a10" stroke-width="1.1"/><line x1="5.6" y1="58.4" x2="16.1" y2="66.4" stroke="#3a1212" stroke-width="1.5"/><line x1="79.9" y1="26.3" x2="88.9" y2="20.2" stroke="#f09010" stroke-width="2.0"/><line x1="137.1" y1="67.9" x2="145.9" y2="55.4" stroke="#d040a0" stroke-width="1.6"/><line x1="-8.7" y1="66.7" x2="3.3" y2="75.5" stroke="#c01010" stroke-width="2.1"/><line x1="125.3" y1="2.1" x2="133.7" y2="-3.5" stroke="#20c0a0" stroke-width="1.6"/><line x1="29.5" y1="38.9" x2="36.4" y2="46.4" stroke="#8020a0" stroke-width="1.9"/><line x1="128.9" y1="-0.6" x2="142.1" y2="-7.4" stroke="#30a0e0" stroke-width="2.4"/><line x1="74.9" y1="60.9" x2="84.3" y2="59.4" stroke="#b0a0d0" stroke-width="2.1"/><line x1="25.3" y1="43.0" x2="31.9" y2="50.8" stroke="#e03020" stroke-width="1.5"/><line x1="97.2" y1="27.1" x2="104.2" y2="23.9" stroke="#f08010" stroke-width="2.4"/><line x1="88.1" y1="60.7" x2="94.1" y2="55.8" stroke="#f08010" stroke-width="1.4"/><line x1="75.3" y1="27.3" x2="82.0" y2="23.0" stroke="#806090" stroke-width="1.8"/><line x1="96.7" y1="48.3" x2="103.0" y2="34.2" stroke="#f09010" stroke-width="1.5"/><line x1="108.1" y1="10.1" x2="118.7" y2="2.5" stroke="#3060e0" stroke-width="1.4"/><line x1="101.2" y1="44.9" x2="104.5" y2="38.6" stroke="#f08010" stroke-width="1.8"/><line x1="2.6" y1="24.9" x2="8.1" y2="32.9" stroke="#f0a070" stroke-width="1.9"/><line x1="127.2" y1="32.4" x2="135.2" y2="32.0" stroke="#f05020" stroke-width="1.8"/><line x1="85.9" y1="24.9" x2="92.5" y2="21.4" stroke="#f09020" stroke-width="1.2"/><line x1="14.8" y1="39.5" x2="23.8" y2="50.0" stroke="#e02020" stroke-width="1.3"/><line x1="64.0" y1="65.8" x2="71.9" y2="66.3" stroke="#d0b040" stroke-width="1.2"/><line x1="107.2" y1="52.8" x2="112.7" y2="44.2" stroke="#f09010" stroke-width="2.3"/><line x1="18.4" y1="10.3" x2="22.1" y2="18.6" stroke="#b030c0" stroke-width="1.5"/><line x1="129.7" y1="41.4" x2="140.3" y2="50.5" stroke="#f8c010" stroke-width="2.2"/><line x1="123.9" y1="37.4" x2="132.8" y2="41.2" stroke="#f8c010" stroke-width="1.7"/><line x1="31.5" y1="23.5" x2="35.2" y2="31.8" stroke="#7020a0" stroke-width="2.3"/><line x1="37.7" y1="1.8" x2="38.8" y2="9.8" stroke="#3a1a0c" stroke-width="1.4"/><line x1="107.5" y1="6.6" x2="119.8" y2="-0.7" stroke="#6040d0" stroke-width="2.2"/><line x1="50.3" y1="37.5" x2="55.2" y2="43.8" stroke="#181838" stroke-width="2.2"/><line x1="89.8" y1="35.6" x2="98.4" y2="29.7" stroke="#f05010" stroke-width="1.4"/><line x1="77.4" y1="16.6" x2="87.5" y2="7.3" stroke="#f09010" stroke-width="1.6"/><line x1="3.8" y1="35.8" x2="14.2" y2="47.5" stroke="#f08020" stroke-width="1.9"/><line x1="75.3" y1="55.2" x2="83.0" y2="54.2" stroke="#a090c0" stroke-width="2.3"/><line x1="120.7" y1="9.5" x2="128.0" y2="4.9" stroke="#3080e0" stroke-width="2.4"/><line x1="104.5" y1="46.5" x2="110.5" y2="37.8" stroke="#f09010" stroke-width="1.6"/><line x1="3.4" y1="56.5" x2="13.4" y2="64.0" stroke="#3a1a0c" stroke-width="1.4"/><line x1="9.5" y1="10.5" x2="13.1" y2="17.6" stroke="#e01818" stroke-width="1.6"/><line x1="104.0" y1="21.3" x2="112.7" y2="17.2" stroke="#8050d0" stroke-width="1.3"/><line x1="105.6" y1="2.2" x2="114.8" y2="-3.6" stroke="#9050d0" stroke-width="1.1"/><line x1="52.4" y1="61.3" x2="58.7" y2="66.2" stroke="#203080" stroke-width="1.8"/><line x1="135.8" y1="72.6" x2="143.8" y2="62.7" stroke="#c030b0" stroke-width="1.9"/><line x1="68.9" y1="54.5" x2="78.2" y2="54.7" stroke="#b0a0d0" stroke-width="1.1"/><line x1="44.8" y1="28.7" x2="48.9" y2="37.5" stroke="#e01830" stroke-width="2.3"/><line x1="15.1" y1="23.5" x2="20.1" y2="31.3" stroke="#2a1426" stroke-width="1.1"/><line x1="41.2" y1="53.9" x2="49.7" y2="61.3" stroke="#e03020" stroke-width="2.2"/><line x1="19.8" y1="57.9" x2="27.2" y2="64.6" stroke="#102040" stroke-width="1.2"/><line x1="63.9" y1="27.1" x2="67.9" y2="18.2" stroke="#f07010" stroke-width="1.7"/><line x1="8.5" y1="-5.7" x2="14.9" y2="8.0" stroke="#3a80d8" stroke-width="1.4"/><line x1="90.2" y1="65.1" x2="99.6" y2="56.6" stroke="#e0a0b0" stroke-width="1.5"/><line x1="28.1" y1="42.5" x2="38.7" y2="53.6" stroke="#c02080" stroke-width="1.2"/><line x1="131.4" y1="24.6" x2="145.5" y2="19.3" stroke="#f05020" stroke-width="1.2"/><line x1="106.6" y1="54.5" x2="112.1" y2="46.4" stroke="#f08010" stroke-width="1.4"/><line x1="53.3" y1="8.4" x2="54.7" y2="0.1" stroke="#8a6a60" stroke-width="1.5"/><line x1="34.3" y1="62.9" x2="44.3" y2="71.4" stroke="#102060" stroke-width="2.4"/><line x1="146.7" y1="38.2" x2="157.0" y2="46.7" stroke="#809020" stroke-width="2.1"/><line x1="145.8" y1="8.5" x2="155.7" y2="2.9" stroke="#4060d0" stroke-width="1.4"/><line x1="27.0" y1="23.8" x2="31.1" y2="30.5" stroke="#5030b0" stroke-width="1.8"/><line x1="85.0" y1="67.4" x2="97.2" y2="57.4" stroke="#f06010" stroke-width="1.6"/><line x1="122.4" y1="38.0" x2="132.3" y2="40.6" stroke="#b0d020" stroke-width="1.4"/><line x1="13.1" y1="6.9" x2="18.9" y2="18.8" stroke="#e01818" stroke-width="1.8"/><line x1="7.0" y1="52.9" x2="14.1" y2="58.8" stroke="#f04010" stroke-width="2.1"/><line x1="65.5" y1="36.1" x2="67.3" y2="29.5" stroke="#f08010" stroke-width="2.0"/><line x1="49.1" y1="9.0" x2="49.6" y2="-3.4" stroke="#c02010" stroke-width="1.1"/><line x1="15.5" y1="67.5" x2="21.8" y2="71.9" stroke="#102040" stroke-width="1.5"/><line x1="58.4" y1="65.6" x2="69.4" y2="68.2" stroke="#9090b0" stroke-width="1.8"/><line x1="-5.3" y1="35.6" x2="2.2" y2="43.0" stroke="#f06010" stroke-width="1.9"/><line x1="30.4" y1="55.4" x2="40.2" y2="65.2" stroke="#e03020" stroke-width="1.4"/><line x1="103.1" y1="-0.9" x2="111.4" y2="-6.0" stroke="#f0a0c0" stroke-width="2.4"/><line x1="11.9" y1="45.2" x2="21.6" y2="55.4" stroke="#d02060" stroke-width="1.9"/><line x1="81.3" y1="49.6" x2="86.3" y2="47.8" stroke="#a090c0" stroke-width="1.8"/><line x1="47.9" y1="59.8" x2="55.7" y2="66.5" stroke="#203080" stroke-width="1.5"/><line x1="138.4" y1="49.9" x2="142.5" y2="56.5" stroke="#c03090" stroke-width="1.1"/><line x1="63.4" y1="61.5" x2="71.5" y2="63.2" stroke="#d0b040" stroke-width="1.3"/><line x1="1.2" y1="-6.5" x2="6.5" y2="5.9" stroke="#d01818" stroke-width="1.5"/><line x1="-8.7" y1="58.4" x2="0.9" y2="65.8" stroke="#3080e0" stroke-width="1.4"/><line x1="58.6" y1="28.5" x2="59.3" y2="19.4" stroke="#c02080" stroke-width="1.3"/><line x1="143.4" y1="8.9" x2="152.9" y2="3.3" stroke="#7030b0" stroke-width="2.0"/><line x1="124.2" y1="69.0" x2="128.1" y2="62.7" stroke="#f07010" stroke-width="1.2"/><line x1="148.8" y1="47.8" x2="158.1" y2="60.2" stroke="#f08010" stroke-width="2.0"/><line x1="1.5" y1="-0.9" x2="6.6" y2="10.3" stroke="#d01818" stroke-width="1.3"/><line x1="89.1" y1="26.5" x2="101.4" y2="21.3" stroke="#f09020" stroke-width="2.2"/><line x1="67.3" y1="37.1" x2="74.9" y2="41.3" stroke="#c02060" stroke-width="1.1"/><line x1="44.4" y1="40.4" x2="52.6" y2="49.7" stroke="#8030a0" stroke-width="2.2"/><line x1="9.4" y1="30.2" x2="18.0" y2="41.5" stroke="#181838" stroke-width="1.5"/><line x1="138.7" y1="34.2" x2="150.6" y2="40.5" stroke="#f09010" stroke-width="1.8"/><line x1="10.5" y1="38.9" x2="18.1" y2="46.5" stroke="#d02060" stroke-width="1.9"/><line x1="107.7" y1="68.6" x2="116.0" y2="57.0" stroke="#f03010" stroke-width="1.6"/><line x1="56.2" y1="16.6" x2="57.7" y2="6.7" stroke="#e02010" stroke-width="1.2"/><line x1="66.6" y1="21.6" x2="72.4" y2="12.3" stroke="#f8a010" stroke-width="1.8"/><line x1="58.7" y1="17.0" x2="61.1" y2="4.0" stroke="#f08010" stroke-width="2.3"/><line x1="63.6" y1="36.7" x2="67.7" y2="40.5" stroke="#202050" stroke-width="1.9"/><line x1="79.8" y1="8.1" x2="90.5" y2="-1.0" stroke="#f8b010" stroke-width="2.2"/><line x1="38.2" y1="57.5" x2="45.0" y2="63.6" stroke="#30b0e0" stroke-width="2.3"/><line x1="88.1" y1="34.1" x2="101.8" y2="27.4" stroke="#f09020" stroke-width="2.3"/><line x1="68.2" y1="72.3" x2="82.4" y2="72.4" stroke="#9090b0" stroke-width="1.4"/><line x1="56.7" y1="6.1" x2="60.1" y2="-8.2" stroke="#8a6a60" stroke-width="2.2"/><line x1="125.8" y1="35.1" x2="139.9" y2="41.9" stroke="#f8e080" stroke-width="2.2"/><line x1="132.1" y1="19.7" x2="142.7" y2="14.4" stroke="#30c040" stroke-width="1.8"/><line x1="91.2" y1="7.7" x2="101.4" y2="0.2" stroke="#f8c010" stroke-width="2.3"/><line x1="125.1" y1="52.4" x2="132.0" y2="44.6" stroke="#f08010" stroke-width="1.6"/><line x1="57.4" y1="38.6" x2="61.1" y2="42.3" stroke="#3a1212" stroke-width="2.3"/><line x1="103.0" y1="53.7" x2="106.8" y2="46.5" stroke="#f06010" stroke-width="1.9"/><line x1="119.1" y1="48.8" x2="130.7" y2="39.1" stroke="#f8e080" stroke-width="1.4"/><line x1="67.9" y1="15.8" x2="73.0" y2="7.1" stroke="#f08010" stroke-width="1.7"/><line x1="104.5" y1="9.0" x2="117.4" y2="1.2" stroke="#f8c818" stroke-width="1.9"/><line x1="28.4" y1="10.6" x2="31.5" y2="18.7" stroke="#d01010" stroke-width="1.5"/><line x1="53.5" y1="4.7" x2="55.0" y2="-5.3" stroke="#5a4a30" stroke-width="2.2"/><line x1="54.6" y1="6.0" x2="56.3" y2="-8.2" stroke="#2a1a10" stroke-width="1.2"/><line x1="15.4" y1="19.1" x2="21.6" y2="29.7" stroke="#c020a0" stroke-width="1.6"/><line x1="125.5" y1="20.1" x2="134.0" y2="15.5" stroke="#30c050" stroke-width="1.9"/><line x1="30.6" y1="43.6" x2="38.7" y2="52.5" stroke="#c02080" stroke-width="1.8"/><line x1="22.0" y1="45.2" x2="28.1" y2="51.0" stroke="#401040" stroke-width="2.1"/><line x1="143.2" y1="71.7" x2="148.8" y2="64.6" stroke="#d040a0" stroke-width="1.5"/><line x1="30.9" y1="13.0" x2="35.0" y2="24.1" stroke="#f0a090" stroke-width="2.3"/><line x1="76.7" y1="24.9" x2="87.8" y2="16.7" stroke="#f8b010" stroke-width="2.0"/><line x1="94.8" y1="5.8" x2="107.8" y2="-3.4" stroke="#f8c818" stroke-width="1.4"/><line x1="44.8" y1="58.2" x2="53.9" y2="66.6" stroke="#8078b0" stroke-width="2.1"/><line x1="14.6" y1="57.8" x2="25.3" y2="66.4" stroke="#102040" stroke-width="2.3"/><line x1="99.0" y1="16.5" x2="109.1" y2="9.9" stroke="#9050d0" stroke-width="2.0"/><line x1="97.6" y1="31.5" x2="105.6" y2="28.7" stroke="#f05010" stroke-width="1.6"/><line x1="108.5" y1="22.7" x2="120.7" y2="16.7" stroke="#20b090" stroke-width="2.0"/><line x1="149.3" y1="3.8" x2="158.0" y2="-0.2" stroke="#7030b0" stroke-width="1.3"/><line x1="113.1" y1="74.8" x2="118.0" y2="67.9" stroke="#f07010" stroke-width="2.2"/><line x1="105.5" y1="65.5" x2="112.7" y2="55.6" stroke="#f09010" stroke-width="1.5"/><line x1="130.2" y1="75.7" x2="138.1" y2="65.7" stroke="#f08010" stroke-width="2.3"/><line x1="41.7" y1="8.0" x2="42.9" y2="18.7" stroke="#3a1a0c" stroke-width="2.4"/><line x1="112.2" y1="41.0" x2="121.2" y2="33.4" stroke="#f8c010" stroke-width="1.7"/><line x1="0.3" y1="66.7" x2="10.1" y2="74.0" stroke="#8030b0" stroke-width="2.3"/><line x1="35.4" y1="12.6" x2="38.5" y2="23.6" stroke="#e81010" stroke-width="1.7"/><line x1="135.0" y1="78.1" x2="141.6" y2="69.4" stroke="#f07010" stroke-width="2.1"/><line x1="107.3" y1="16.5" x2="114.5" y2="12.0" stroke="#20b090" stroke-width="1.2"/><line x1="9.1" y1="2.4" x2="13.7" y2="13.0" stroke="#e82020" stroke-width="1.3"/><line x1="141.9" y1="47.9" x2="150.0" y2="56.6" stroke="#c03090" stroke-width="1.2"/><line x1="31.1" y1="28.0" x2="34.6" y2="34.3" stroke="#c020a0" stroke-width="1.1"/><line x1="102.1" y1="26.7" x2="109.6" y2="23.6" stroke="#20b070" stroke-width="2.4"/><line x1="116.6" y1="71.1" x2="121.9" y2="61.9" stroke="#f03010" stroke-width="1.2"/><line x1="55.5" y1="65.4" x2="63.5" y2="70.3" stroke="#203080" stroke-width="2.0"/><line x1="57.0" y1="26.6" x2="59.7" y2="35.9" stroke="#e83020" stroke-width="2.0"/><line x1="14.6" y1="6.1" x2="19.2" y2="16.1" stroke="#9030c0" stroke-width="1.6"/><line x1="-2.3" y1="7.6" x2="1.9" y2="14.9" stroke="#3a1212" stroke-width="1.9"/><line x1="116.9" y1="68.3" x2="124.5" y2="55.4" stroke="#f07010" stroke-width="1.4"/><line x1="135.8" y1="69.9" x2="143.2" y2="60.1" stroke="#c030b0" stroke-width="2.0"/><line x1="35.7" y1="-8.5" x2="37.5" y2="2.2" stroke="#3a0a08" stroke-width="1.8"/><line x1="34.0" y1="31.3" x2="39.6" y2="40.7" stroke="#8020a0" stroke-width="1.9"/><line x1="124.5" y1="11.8" x2="131.3" y2="7.6" stroke="#30a0e0" stroke-width="1.7"/><line x1="101.6" y1="3.2" x2="113.9" y2="-4.8" stroke="#f8c818" stroke-width="2.2"/><line x1="20.0" y1="23.9" x2="26.4" y2="33.8" stroke="#7020a0" stroke-width="1.5"/><line x1="61.3" y1="59.3" x2="65.8" y2="61.1" stroke="#8080b0" stroke-width="1.6"/><line x1="132.7" y1="71.8" x2="138.5" y2="64.1" stroke="#f08010" stroke-width="1.5"/><line x1="133.6" y1="57.8" x2="138.0" y2="50.2" stroke="#f09010" stroke-width="1.1"/><line x1="30.6" y1="11.1" x2="33.4" y2="20.6" stroke="#801010" stroke-width="1.7"/><line x1="95.0" y1="45.7" x2="99.3" y2="34.9" stroke="#f05010" stroke-width="1.6"/><line x1="-5.0" y1="61.7" x2="5.7" y2="69.5" stroke="#3a1a0c" stroke-width="1.2"/><line x1="43.7" y1="40.8" x2="52.9" y2="50.8" stroke="#8030a0" stroke-width="2.4"/><line x1="128.2" y1="56.0" x2="135.3" y2="46.8" stroke="#f8c010" stroke-width="2.0"/><line x1="64.9" y1="34.1" x2="72.4" y2="39.0" stroke="#202050" stroke-width="1.7"/><line x1="131.9" y1="58.9" x2="137.5" y2="50.3" stroke="#f8c010" stroke-width="1.9"/><line x1="26.5" y1="8.9" x2="29.3" y2="15.8" stroke="#d01010" stroke-width="2.4"/><line x1="60.5" y1="33.1" x2="63.8" y2="38.7" stroke="#f8c010" stroke-width="2.1"/><line x1="19.1" y1="54.6" x2="26.1" y2="60.4" stroke="#301040" stroke-width="2.3"/><line x1="106.2" y1="74.6" x2="112.6" y2="64.4" stroke="#f8b010" stroke-width="2.0"/><line x1="66.7" y1="36.1" x2="69.6" y2="30.9" stroke="#f8c010" stroke-width="2.3"/><line x1="22.6" y1="25.3" x2="27.4" y2="32.7" stroke="#7020a0" stroke-width="1.4"/><line x1="11.1" y1="8.7" x2="17.8" y2="20.8" stroke="#d01020" stroke-width="1.8"/><line x1="141.6" y1="10.3" x2="147.9" y2="7.3" stroke="#7030b0" stroke-width="1.4"/><line x1="31.0" y1="54.7" x2="38.6" y2="62.4" stroke="#c02080" stroke-width="2.3"/><line x1="129.1" y1="1.2" x2="137.3" y2="-3.5" stroke="#30a0e0" stroke-width="1.6"/><line x1="50.4" y1="36.6" x2="54.5" y2="42.3" stroke="#d01860" stroke-width="2.2"/><line x1="10.5" y1="18.4" x2="16.4" y2="27.4" stroke="#f0a070" stroke-width="2.1"/><line x1="5.5" y1="65.2" x2="12.2" y2="70.6" stroke="#c01010" stroke-width="1.2"/><line x1="102.5" y1="20.6" x2="113.7" y2="14.0" stroke="#20b0a0" stroke-width="1.6"/><line x1="41.9" y1="48.0" x2="52.6" y2="58.9" stroke="#e03020" stroke-width="2.0"/><line x1="110.0" y1="11.3" x2="122.6" y2="3.9" stroke="#4050d8" stroke-width="2.2"/><line x1="128.6" y1="28.4" x2="142.2" y2="23.5" stroke="#f09010" stroke-width="2.2"/><line x1="-2.3" y1="-6.6" x2="1.7" y2="3.4" stroke="#3a80d8" stroke-width="1.2"/><line x1="38.8" y1="59.0" x2="49.6" y2="67.9" stroke="#142a60" stroke-width="1.9"/><line x1="75.2" y1="8.3" x2="85.0" y2="-1.6" stroke="#f8b010" stroke-width="1.5"/><line x1="17.5" y1="34.8" x2="24.0" y2="42.5" stroke="#e02020" stroke-width="1.8"/><line x1="132.8" y1="24.9" x2="143.5" y2="21.9" stroke="#f07010" stroke-width="1.3"/><line x1="73.2" y1="8.8" x2="77.5" y2="2.8" stroke="#f8b010" stroke-width="1.6"/><line x1="3.0" y1="60.9" x2="11.6" y2="67.6" stroke="#3080e0" stroke-width="1.8"/><line x1="0.1" y1="6.9" x2="4.7" y2="15.3" stroke="#3070d0" stroke-width="1.3"/><line x1="22.7" y1="-6.3" x2="25.4" y2="2.3" stroke="#a01010" stroke-width="1.8"/><line x1="146.8" y1="35.8" x2="158.2" y2="44.9" stroke="#809020" stroke-width="1.6"/><line x1="2.2" y1="14.3" x2="9.8" y2="26.2" stroke="#3070d0" stroke-width="2.1"/><line x1="56.1" y1="52.8" x2="62.3" y2="57.3" stroke="#181838" stroke-width="1.5"/><line x1="115.2" y1="61.8" x2="123.5" y2="48.5" stroke="#f8a010" stroke-width="1.5"/><line x1="139.2" y1="64.4" x2="143.7" y2="51.6" stroke="#f08010" stroke-width="2.3"/><line x1="53.1" y1="47.8" x2="57.6" y2="52.3" stroke="#8060b0" stroke-width="1.2"/><line x1="55.6" y1="35.1" x2="58.4" y2="39.7" stroke="#c020a0" stroke-width="1.7"/><line x1="71.3" y1="54.5" x2="76.2" y2="54.8" stroke="#8080b0" stroke-width="2.2"/><line x1="38.2" y1="17.0" x2="40.3" y2="24.7" stroke="#f0a090" stroke-width="1.4"/><line x1="138.4" y1="60.5" x2="141.0" y2="53.0" stroke="#f8c010" stroke-width="2.2"/><line x1="70.7" y1="5.6" x2="75.6" y2="-2.1" stroke="#f08010" stroke-width="2.1"/><line x1="46.9" y1="53.4" x2="57.1" y2="62.7" stroke="#e04060" stroke-width="1.3"/><line x1="-6.2" y1="55.6" x2="0.9" y2="61.2" stroke="#d01010" stroke-width="2.3"/><line x1="127.1" y1="71.2" x2="132.4" y2="62.4" stroke="#f07010" stroke-width="2.2"/><line x1="130.7" y1="22.0" x2="144.4" y2="17.2" stroke="#20b0a0" stroke-width="1.9"/><line x1="145.0" y1="67.9" x2="152.8" y2="58.6" stroke="#d040a0" stroke-width="2.0"/><line x1="41.0" y1="50.3" x2="48.1" y2="57.6" stroke="#e03020" stroke-width="1.8"/><line x1="140.8" y1="40.3" x2="147.6" y2="45.8" stroke="#809020" stroke-width="1.6"/><line x1="80.5" y1="34.9" x2="92.2" y2="28.9" stroke="#f0a030" stroke-width="1.8"/><line x1="81.9" y1="42.2" x2="89.9" y2="38.1" stroke="#f8b010" stroke-width="1.6"/><line x1="8.2" y1="-9.1" x2="14.5" y2="4.1" stroke="#3a80d8" stroke-width="1.1"/><line x1="115.0" y1="22.0" x2="122.1" y2="18.6" stroke="#3090e0" stroke-width="2.0"/><line x1="42.7" y1="6.5" x2="44.5" y2="16.9" stroke="#d01010" stroke-width="2.2"/><line x1="103.5" y1="63.4" x2="108.1" y2="55.7" stroke="#f09010" stroke-width="1.6"/><line x1="125.1" y1="55.0" x2="134.0" y2="44.8" stroke="#f09010" stroke-width="1.4"/><line x1="122.5" y1="64.9" x2="128.5" y2="55.9" stroke="#f07010" stroke-width="1.7"/><line x1="29.6" y1="62.8" x2="37.7" y2="70.5" stroke="#182858" stroke-width="1.4"/><line x1="108.2" y1="21.7" x2="117.0" y2="16.7" stroke="#8050d0" stroke-width="1.1"/><line x1="93.3" y1="6.8" x2="104.1" y2="-0.5" stroke="#f09010" stroke-width="1.9"/><line x1="126.2" y1="79.1" x2="134.1" y2="68.5" stroke="#f07010" stroke-width="1.3"/><line x1="-1.8" y1="45.4" x2="5.0" y2="51.6" stroke="#f06010" stroke-width="2.1"/><line x1="4.1" y1="10.0" x2="12.0" y2="22.9" stroke="#3070d0" stroke-width="1.5"/><line x1="108.7" y1="25.1" x2="117.8" y2="21.2" stroke="#f07010" stroke-width="1.7"/><line x1="13.2" y1="4.7" x2="17.8" y2="14.4" stroke="#3a80d8" stroke-width="1.6"/><line x1="138.9" y1="74.9" x2="143.4" y2="69.2" stroke="#c030b0" stroke-width="2.2"/><line x1="114.9" y1="46.7" x2="126.0" y2="36.2" stroke="#f09010" stroke-width="1.8"/><line x1="30.1" y1="53.0" x2="40.7" y2="62.5" stroke="#401860" stroke-width="1.3"/><line x1="36.0" y1="34.1" x2="44.7" y2="45.9" stroke="#e02030" stroke-width="1.8"/><line x1="143.5" y1="73.3" x2="148.0" y2="67.6" stroke="#d040a0" stroke-width="1.1"/><line x1="147.4" y1="37.7" x2="154.6" y2="44.4" stroke="#f0c020" stroke-width="2.1"/><line x1="139.2" y1="36.2" x2="147.3" y2="41.2" stroke="#f09010" stroke-width="1.9"/><line x1="100.8" y1="0.9" x2="111.4" y2="-7.3" stroke="#f0a0c0" stroke-width="2.1"/><line x1="100.7" y1="32.3" x2="113.6" y2="27.5" stroke="#20b070" stroke-width="2.3"/><line x1="39.7" y1="51.7" x2="48.5" y2="60.6" stroke="#8030a0" stroke-width="1.7"/><line x1="6.0" y1="0.1" x2="12.2" y2="13.5" stroke="#3a80d8" stroke-width="1.9"/><line x1="20.5" y1="-3.5" x2="24.5" y2="10.4" stroke="#a01010" stroke-width="1.4"/><line x1="116.9" y1="44.2" x2="127.6" y2="35.7" stroke="#f8c010" stroke-width="1.6"/><line x1="147.2" y1="14.8" x2="158.0" y2="10.5" stroke="#7030b0" stroke-width="2.4"/><line x1="128.2" y1="27.9" x2="139.1" y2="24.8" stroke="#20c060" stroke-width="2.3"/><line x1="0.2" y1="7.4" x2="5.7" y2="16.8" stroke="#3070d0" stroke-width="1.5"/><line x1="34.3" y1="18.0" x2="38.3" y2="27.6" stroke="#d01010" stroke-width="2.2"/><line x1="34.3" y1="54.3" x2="41.8" y2="62.0" stroke="#201030" stroke-width="2.1"/><line x1="51.2" y1="56.0" x2="58.0" y2="61.7" stroke="#102050" stroke-width="1.6"/><line x1="131.8" y1="32.4" x2="144.0" y2="32.1" stroke="#f08010" stroke-width="1.9"/><line x1="69.9" y1="60.5" x2="75.3" y2="60.8" stroke="#d0b040" stroke-width="2.3"/><line x1="70.9" y1="36.2" x2="78.1" y2="33.9" stroke="#f8b010" stroke-width="1.6"/><line x1="112.3" y1="0.7" x2="123.9" y2="-7.7" stroke="#3060e0" stroke-width="1.7"/><line x1="130.1" y1="16.3" x2="140.7" y2="10.9" stroke="#3080e0" stroke-width="1.8"/><line x1="36.2" y1="-1.2" x2="37.9" y2="10.7" stroke="#e81810" stroke-width="1.6"/><line x1="12.3" y1="11.3" x2="16.7" y2="18.9" stroke="#3070d0" stroke-width="1.9"/><line x1="136.2" y1="3.3" x2="150.3" y2="-4.1" stroke="#30c040" stroke-width="1.5"/><line x1="74.6" y1="71.2" x2="90.0" y2="69.1" stroke="#b0a0d0" stroke-width="2.2"/><line x1="51.6" y1="13.2" x2="52.8" y2="3.9" stroke="#c02010" stroke-width="1.8"/><line x1="72.5" y1="8.0" x2="78.8" y2="-0.1" stroke="#f09010" stroke-width="2.2"/><line x1="133.9" y1="34.4" x2="147.2" y2="42.1" stroke="#809020" stroke-width="2.0"/><line x1="119.3" y1="16.5" x2="126.9" y2="12.6" stroke="#6040d0" stroke-width="1.8"/><line x1="68.0" y1="29.2" x2="78.3" y2="17.1" stroke="#f08010" stroke-width="2.1"/><line x1="49.0" y1="64.8" x2="55.2" y2="69.2" stroke="#8078b0" stroke-width="1.6"/><line x1="79.1" y1="27.3" x2="90.7" y2="21.5" stroke="#806090" stroke-width="2.2"/><line x1="143.9" y1="15.7" x2="154.2" y2="10.8" stroke="#20b060" stroke-width="2.3"/><line x1="127.4" y1="21.1" x2="134.6" y2="18.3" stroke="#20b0a0" stroke-width="1.8"/><line x1="102.8" y1="29.3" x2="113.9" y2="25.9" stroke="#f05010" stroke-width="1.2"/><line x1="33.1" y1="42.1" x2="42.4" y2="52.9" stroke="#e03020" stroke-width="1.1"/><line x1="135.1" y1="38.5" x2="141.2" y2="43.8" stroke="#f0c020" stroke-width="1.6"/><line x1="140.7" y1="61.0" x2="140.4" y2="51.9" stroke="#c030b0" stroke-width="1.5"/><line x1="70.3" y1="28.4" x2="78.1" y2="20.2" stroke="#f08010" stroke-width="1.8"/><line x1="31.8" y1="66.5" x2="39.3" y2="72.4" stroke="#182858" stroke-width="1.5"/><line x1="80.0" y1="11.0" x2="87.9" y2="3.6" stroke="#f8b010" stroke-width="1.6"/><line x1="104.1" y1="17.2" x2="115.8" y2="10.5" stroke="#20b0a0" stroke-width="1.8"/><line x1="118.3" y1="59.4" x2="121.9" y2="53.3" stroke="#f09010" stroke-width="2.2"/><line x1="110.5" y1="42.0" x2="119.8" y2="33.3" stroke="#c0e020" stroke-width="1.6"/><line x1="124.8" y1="76.3" x2="131.9" y2="65.6" stroke="#f07010" stroke-width="2.0"/><line x1="124.0" y1="71.6" x2="128.7" y2="64.5" stroke="#f08010" stroke-width="1.2"/><line x1="20.2" y1="-7.0" x2="23.6" y2="4.8" stroke="#181838" stroke-width="2.0"/><line x1="46.6" y1="17.2" x2="49.7" y2="28.4" stroke="#2a1426" stroke-width="1.9"/><line x1="35.3" y1="8.7" x2="37.6" y2="17.5" stroke="#500a10" stroke-width="1.7"/><line x1="28.1" y1="5.1" x2="33.2" y2="19.0" stroke="#3a0a08" stroke-width="2.1"/><line x1="140.2" y1="77.3" x2="147.9" y2="69.1" stroke="#f08010" stroke-width="1.7"/><line x1="50.2" y1="5.7" x2="50.2" y2="-2.3" stroke="#2a1a10" stroke-width="2.2"/><line x1="47.9" y1="47.2" x2="55.4" y2="55.1" stroke="#8060b0" stroke-width="1.4"/><line x1="60.4" y1="32.5" x2="62.6" y2="37.1" stroke="#c020a0" stroke-width="1.2"/><line x1="19.5" y1="61.9" x2="32.2" y2="71.5" stroke="#101030" stroke-width="2.1"/><line x1="118.5" y1="7.8" x2="131.4" y2="0.1" stroke="#30a0e0" stroke-width="2.2"/><line x1="132.5" y1="7.5" x2="145.0" y2="1.4" stroke="#30a0e0" stroke-width="1.6"/><line x1="56.2" y1="63.6" x2="68.8" y2="69.0" stroke="#40a0e0" stroke-width="1.2"/><line x1="14.2" y1="0.4" x2="18.2" y2="12.4" stroke="#e82020" stroke-width="1.3"/><line x1="1.2" y1="35.2" x2="9.9" y2="44.8" stroke="#f08020" stroke-width="1.5"/><line x1="14.4" y1="32.2" x2="20.6" y2="39.1" stroke="#a020b0" stroke-width="2.2"/><line x1="26.5" y1="-3.9" x2="28.9" y2="3.7" stroke="#f0a090" stroke-width="1.7"/><line x1="117.0" y1="26.9" x2="126.9" y2="23.7" stroke="#20b060" stroke-width="2.2"/><line x1="27.5" y1="27.9" x2="32.3" y2="34.9" stroke="#c020a0" stroke-width="2.3"/><line x1="85.2" y1="29.0" x2="97.1" y2="23.7" stroke="#30a070" stroke-width="1.2"/><line x1="25.1" y1="55.7" x2="32.4" y2="61.9" stroke="#2a50a8" stroke-width="1.5"/><line x1="53.0" y1="15.5" x2="54.8" y2="31.2" stroke="#e02010" stroke-width="1.3"/><line x1="105.5" y1="14.3" x2="113.2" y2="9.0" stroke="#f8c818" stroke-width="2.2"/><line x1="67.7" y1="36.9" x2="76.5" y2="39.5" stroke="#202050" stroke-width="1.7"/><line x1="140.7" y1="45.2" x2="147.2" y2="51.4" stroke="#f08010" stroke-width="2.0"/><line x1="94.2" y1="74.2" x2="100.0" y2="68.5" stroke="#a030a0" stroke-width="2.1"/><line x1="-0.4" y1="32.0" x2="5.6" y2="38.9" stroke="#f0a070" stroke-width="1.6"/><line x1="137.1" y1="59.9" x2="140.1" y2="50.9" stroke="#f8c010" stroke-width="1.3"/><line x1="141.2" y1="47.5" x2="150.4" y2="57.5" stroke="#c03090" stroke-width="1.5"/><line x1="18.9" y1="33.9" x2="24.5" y2="40.3" stroke="#e02020" stroke-width="1.1"/><line x1="22.7" y1="6.0" x2="26.4" y2="17.5" stroke="#c01010" stroke-width="2.3"/><line x1="23.4" y1="5.0" x2="27.7" y2="17.1" stroke="#3a0a08" stroke-width="1.7"/><line x1="47.2" y1="60.5" x2="56.9" y2="67.2" stroke="#40a0e0" stroke-width="2.3"/><line x1="129.1" y1="28.1" x2="141.1" y2="24.8" stroke="#f8c020" stroke-width="1.2"/><line x1="77.8" y1="22.9" x2="87.1" y2="16.6" stroke="#f09010" stroke-width="1.4"/><line x1="54.5" y1="23.8" x2="55.1" y2="9.1" stroke="#2a1426" stroke-width="2.0"/><line x1="60.7" y1="53.5" x2="66.3" y2="56.0" stroke="#3a1212" stroke-width="1.2"/><line x1="127.2" y1="17.1" x2="138.4" y2="12.2" stroke="#20c060" stroke-width="2.1"/><line x1="107.1" y1="10.7" x2="118.1" y2="3.1" stroke="#4050d8" stroke-width="2.1"/><line x1="66.1" y1="55.1" x2="75.5" y2="56.2" stroke="#303070" stroke-width="1.9"/><line x1="97.4" y1="23.3" x2="109.9" y2="16.3" stroke="#20b0a0" stroke-width="2.2"/><line x1="2.9" y1="66.0" x2="13.0" y2="72.7" stroke="#c01010" stroke-width="1.3"/><line x1="82.0" y1="58.9" x2="87.6" y2="56.5" stroke="#703080" stroke-width="1.7"/><line x1="126.8" y1="25.5" x2="136.7" y2="22.6" stroke="#30c050" stroke-width="1.7"/><line x1="148.5" y1="36.7" x2="158.4" y2="45.5" stroke="#f0c020" stroke-width="2.3"/><line x1="101.2" y1="70.3" x2="107.1" y2="61.9" stroke="#f8b010" stroke-width="1.6"/><line x1="7.8" y1="8.1" x2="12.4" y2="17.7" stroke="#2a1426" stroke-width="1.4"/><line x1="14.6" y1="-4.6" x2="20.0" y2="8.8" stroke="#a01010" stroke-width="2.0"/><line x1="126.6" y1="3.7" x2="135.0" y2="-1.1" stroke="#30a0e0" stroke-width="2.0"/><line x1="22.7" y1="10.1" x2="25.2" y2="17.1" stroke="#e01818" stroke-width="1.4"/><line x1="57.8" y1="20.0" x2="59.3" y2="11.3" stroke="#e02010" stroke-width="1.4"/><line x1="135.0" y1="44.9" x2="141.1" y2="51.6" stroke="#f8c010" stroke-width="1.4"/><line x1="98.6" y1="9.5" x2="108.2" y2="3.0" stroke="#f8c818" stroke-width="2.4"/><line x1="144.3" y1="17.8" x2="152.9" y2="14.3" stroke="#6030a0" stroke-width="1.2"/><line x1="-7.0" y1="59.8" x2="3.9" y2="66.7" stroke="#3080e0" stroke-width="2.3"/><line x1="48.0" y1="34.3" x2="57.6" y2="46.8" stroke="#e02040" stroke-width="1.6"/><line x1="45.7" y1="19.5" x2="49.6" y2="31.3" stroke="#181838" stroke-width="1.7"/><line x1="105.1" y1="17.6" x2="113.2" y2="13.3" stroke="#5060e0" stroke-width="2.1"/><line x1="-6.0" y1="66.3" x2="4.8" y2="73.9" stroke="#3080e0" stroke-width="2.3"/><line x1="133.0" y1="12.0" x2="141.6" y2="8.2" stroke="#4060d0" stroke-width="2.4"/><line x1="104.4" y1="14.0" x2="117.7" y2="5.5" stroke="#5060e0" stroke-width="2.2"/><line x1="139.8" y1="66.9" x2="147.9" y2="56.9" stroke="#f08010" stroke-width="2.0"/><line x1="58.9" y1="25.8" x2="60.3" y2="34.2" stroke="#e02020" stroke-width="2.4"/><line x1="146.1" y1="67.3" x2="153.0" y2="58.0" stroke="#f08010" stroke-width="2.0"/><line x1="32.1" y1="-1.8" x2="33.5" y2="7.0" stroke="#5a1010" stroke-width="1.8"/><line x1="80.4" y1="4.6" x2="89.7" y2="-4.2" stroke="#f07010" stroke-width="1.7"/><line x1="115.2" y1="22.0" x2="128.4" y2="16.0" stroke="#20c0b0" stroke-width="1.2"/><line x1="86.6" y1="21.1" x2="92.7" y2="16.9" stroke="#f0a0b0" stroke-width="1.9"/><line x1="30.5" y1="-5.2" x2="33.2" y2="5.9" stroke="#f0a090" stroke-width="1.6"/><line x1="27.3" y1="14.2" x2="30.0" y2="21.4" stroke="#500a10" stroke-width="1.7"/><line x1="134.6" y1="24.4" x2="141.6" y2="21.7" stroke="#f08010" stroke-width="2.3"/><line x1="94.1" y1="30.3" x2="104.3" y2="26.0" stroke="#f05010" stroke-width="1.8"/><line x1="-7.2" y1="57.6" x2="4.9" y2="65.9" stroke="#f07020" stroke-width="1.2"/><line x1="9.6" y1="63.1" x2="18.8" y2="70.9" stroke="#301040" stroke-width="1.3"/><line x1="-5.9" y1="31.3" x2="-1.6" y2="36.9" stroke="#f0b070" stroke-width="1.4"/><line x1="21.1" y1="37.5" x2="28.5" y2="46.2" stroke="#d02060" stroke-width="1.6"/><line x1="102.5" y1="40.0" x2="114.7" y2="30.4" stroke="#f08010" stroke-width="2.2"/><line x1="-2.5" y1="13.7" x2="3.7" y2="24.1" stroke="#3070d0" stroke-width="2.1"/><line x1="142.4" y1="3.8" x2="150.6" y2="-0.4" stroke="#7030b0" stroke-width="1.5"/><line x1="144.2" y1="29.6" x2="157.4" y2="27.2" stroke="#f09010" stroke-width="2.1"/><line x1="90.4" y1="21.0" x2="99.1" y2="15.3" stroke="#f8c010" stroke-width="1.6"/><line x1="24.4" y1="12.5" x2="28.5" y2="23.3" stroke="#500a10" stroke-width="2.2"/><line x1="61.0" y1="33.2" x2="65.0" y2="39.1" stroke="#c020a0" stroke-width="1.3"/><line x1="107.5" y1="21.4" x2="114.3" y2="17.8" stroke="#5060e0" stroke-width="1.8"/><line x1="11.2" y1="3.9" x2="16.1" y2="16.5" stroke="#e01818" stroke-width="2.0"/><line x1="99.8" y1="9.6" x2="111.9" y2="1.6" stroke="#f8c818" stroke-width="1.8"/><line x1="56.9" y1="40.6" x2="59.9" y2="43.9" stroke="#e02040" stroke-width="1.2"/><line x1="6.7" y1="52.0" x2="14.9" y2="59.2" stroke="#d01010" stroke-width="1.8"/><line x1="117.1" y1="30.2" x2="124.7" y2="27.5" stroke="#20b060" stroke-width="1.7"/><line x1="24.9" y1="4.3" x2="28.9" y2="14.8" stroke="#801010" stroke-width="1.7"/></g>
<g filter="url(#wb_streak)"><path d="M67.2,47.6 A8.0,4.8 0 0 0 81.8,49.5" stroke="#b9a9d9" stroke-width="1.5" fill="none"/><path d="M63.7,47.9 A11.7,6.9 0 0 0 84.9,50.6" stroke="#6d5ca3" stroke-width="1.5" fill="none"/><path d="M60.1,48.2 A15.4,9.1 0 0 0 88.0,51.8" stroke="#c9bfe3" stroke-width="1.5" fill="none"/><path d="M56.6,48.4 A19.0,11.3 0 0 0 91.1,53.0" stroke="#8b78b8" stroke-width="1.5" fill="none"/><path d="M53.0,48.7 A22.7,13.5 0 0 0 94.2,54.1" stroke="#54468a" stroke-width="1.5" fill="none"/><path d="M49.4,49.0 A26.4,15.7 0 0 0 97.3,55.2" stroke="#a694cc" stroke-width="1.5" fill="none"/><path d="M45.9,49.3 A30.1,17.9 0 0 0 100.4,56.4" stroke="#d5cbe8" stroke-width="1.5" fill="none"/><path d="M42.3,49.5 A33.8,20.0 0 0 0 103.5,57.5" stroke="#7a63ad" stroke-width="1.5" fill="none"/></g>
<ellipse cx="73.0" cy="45.5" rx="7" ry="3.4" fill="#121a4e" filter="url(#wb_streak)"/>
</g></g>
<rect x="850.8" y="179.6" width="10" height="1.5" fill="#c9b070" opacity=".9"/>

<g transform="translate(0.4,388.1)">
  <polygon points="56.3,17 78.5,7.3 78.5,106.2 56.6,98.6" fill="url(#tw_side)"/>
  <polygon points="78.5,7.3 119.9,9 119.9,104 110,105.6 78.5,106.2" fill="url(#tw_front)"/>
  <polygon points="79.5,8 119.3,9.6 105,24.5 97,24.5" fill="url(#tw_v)"/>
  <polygon points="79.5,8 81.5,8 98.2,24.5 97,24.5" fill="#6a6a6c" opacity=".7"/>
  <polygon points="119.3,9.6 117.6,9.5 103.8,24.5 105,24.5" fill="#77777a" opacity=".7"/>
  <polygon points="105,24.5 119.9,9 119.9,104 105,105.3" fill="url(#tw_rp)"/>
  <rect x="97" y="24.5" width="8" height="80.8" fill="#2b2b2d"/>
  <rect x="98" y="25.5" width="5" height="79" fill="url(#tw_strip)"/>
  <rect x="97.6" y="24.6" width="6.4" height="2.6" fill="#141416"/>
  <rect x="103.4" y="26" width="1.3" height="79" fill="#1d1d1f"/>
  <rect x="105" y="24.5" width="0.8" height="80" fill="#5c5c5f" opacity=".8"/>
  <rect x="78.1" y="7.5" width="1.1" height="98.5" fill="#1c1c1e" opacity=".8"/>
  <rect x="99.7" y="69.6" width="2.2" height="2.2" fill="#0e0e10"/>
  <rect x="99.7" y="74.5" width="2.2" height="7.5" fill="#0e0e10"/>
  <rect x="99.7" y="84.5" width="2.2" height="2.4" fill="#1b1b1d"/>
  <rect x="99.7" y="89.4" width="2.2" height="2.6" fill="#0e0e10"/>
</g>
<g transform="translate(133.4,461.5)">
<rect x="58" y="-2.2" width="116.2" height="4.4" fill="#0d0d0e"/>
<rect x="52.5" y="-3.9" width="7.3" height="7.9" rx="1.2" fill="#111113"/>
<rect x="165.4" y="-3.9" width="7.5" height="7.900" rx="1.2" fill="#111113"/>
<rect x="0" y="-6.8" width="11.5" height="10.2" rx="0.8" fill="url(#cb_cream)"/>
<rect x="1" y="3.4" width="10" height="1.2" fill="#cfc6a0" opacity=".7"/>
<path d="M10.4,-10.2 L46,-8.200 Q53,-7.3 53,-3.600 L53,4.4 Q53,8 46,8.700 L12.5,9.3 Q10.4,9.3 10.4,7.800 Z" fill="url(#cb_left)"/>
<path d="M11,0.2 L52.5,-0.6 L52.5,3.2 L11,4.2 Z" fill="#7d818a" opacity=".75"/>
<path d="M177.2,-8.8 L215.7,-8.8 Q217.2,-8.8 217.2,-7.3 L217.2,9 Q217.2,10.5 215.7,10.5 L178.2,10.5 Q172.2,9.5 172.2,4.5 L172.2,-3.5 Q172.2,-8 177.2,-8.8 Z" fill="url(#cb_right)"/>
<rect x="173.2" y="-3.7" width="43" height="2.9" fill="#858b96" opacity=".8"/>
<rect x="192.2" y="-8.6" width="9" height="2" fill="#0b0c0e" opacity=".8"/>
<rect x="217.2" y="-5" width="11.4" height="11.6" rx="0.7" fill="url(#cb_gold)"/>
<rect x="217.7" y="-1.3" width="9" height="1.1" fill="#4a3a1c" opacity=".8"/>
<rect x="220.2" y="1.3" width="6.5" height="1" fill="#5a4622" opacity=".7"/>
<text x="0" y="0" transform="translate(31.3,-1.8) scale(-1,1)" font-family='"Liberation Sans", sans-serif' font-weight="700" font-size="4.6" fill="#f2f2f2" textLength="17.6" lengthAdjust="spacingAndGlyphs">SOURCE</text>
<polygon points="40.4,-4.8 43.8,-3.3 40.4,-1.7" fill="#f2f2f2"/>
<rect x="178.2" y="3.2" width="20" height="2.6" rx="0.6" fill="#2a303a" opacity=".55"/>
</g>

<g transform="translate(933.3,295) scale(-1,1)">
  <polygon points="412.3,173 556.4,173 555.7,220.9 413.2,220.9" fill="url(#sw_front)"/>
  <polygon points="412.3,173 414.6,173 415.2,220.9 413.2,220.9" fill="#0b0b0b" opacity=".8"/>
  <polygon points="419,118.7 549,118.7 556.6,173.6 411.6,173.6" fill="url(#sw_top)"/>
  <rect x="411.8" y="172.8" width="144.6" height="1.5" fill="#070707"/>
  <!-- screws -->
  <circle cx="440" cy="210" r="6.3" fill="#1b1b1b" stroke="#0c0c0c" stroke-width="1"/>
  <path d="M436.6,210 h6.8 M440,206.600 v6.8" stroke="#050505" stroke-width="1.5"/>
  <circle cx="528.4" cy="210" r="6.3" fill="#1b1b1b" stroke="#0c0c0c" stroke-width="1"/>
  <path d="M525,210 h6.8 M528.4,206.6 v6.8" stroke="#050505" stroke-width="1.5"/>
  <!-- logos -->
  <g transform="matrix(1,0,-0.105,1,18.3,0)">
    <rect x="424.400" y="121" width="12.2" height="9.9" fill="#e9e9e9"/>
    <text transform="translate(427.3,122.2) rotate(90)" font-family='"Liberation Sans", sans-serif' font-weight="700" font-size="7.5" fill="#222" textLength="7.6" lengthAdjust="spacingAndGlyphs">4K</text>
    <rect x="424.4" y="132.2" width="12.2" height="9.6" fill="#e9e9e9"/>
    <text transform="translate(427.3,133.2) rotate(90)" font-family='"Liberation Sans", sans-serif' font-weight="700" font-size="7.5" fill="#222" textLength="7.6" lengthAdjust="spacingAndGlyphs">3D</text>
    <text transform="translate(425.2,143.4) rotate(90)" font-family='"Liberation Sans", sans-serif' font-weight="700" font-size="15.5" fill="#f1f1f1" stroke="#f1f1f1" stroke-width="0.7" textLength="25" lengthAdjust="spacingAndGlyphs">HDMI</text>
  </g>
  <text transform="translate(450.6,130.4) rotate(90)" font-family='"Liberation Sans", sans-serif' font-size="6" fill="#bdbdbd">1</text>
  <text transform="translate(449.4,153.8) rotate(90)" font-family='"Liberation Sans", sans-serif' font-size="6" fill="#bdbdbd">2</text>
  <ellipse cx="466.9" cy="131.9" rx="4.3" ry="2.6" fill="#2b9a33"/>
  <ellipse cx="466.900" cy="131.9" rx="1.5" ry="1.600" fill="#10400f"/>
  <ellipse cx="465.7" cy="155.6" rx="4.3" ry="2.6" fill="#2b9a33"/>
  <ellipse cx="465.7" cy="155.600" rx="1.5" ry="1.6" fill="#10400f"/>
  <ellipse cx="477.3" cy="144.6" rx="14.4" ry="8" fill="#060606"/>
  <ellipse cx="476.3" cy="142.6" rx="13.6" ry="7.1" fill="url(#sw_btn)"/>
  <path d="M463.3,144 Q466,148.6 472,149.6" stroke="#9a9a9a" stroke-width="1.1" fill="none" opacity=".8"/>
  <path d="M483,149.3 Q487,148.6 489,146.600" stroke="#777" stroke-width="1" fill="none" opacity=".7"/>
  <g transform="matrix(1,0,0.13,1,-18.6,0)">
    <text transform="translate(525.4,121.6) rotate(90)" font-family='"Liberation Sans", sans-serif' font-size="9" fill="#cfcfcf" textLength="45.6" lengthAdjust="spacingAndGlyphs">HDMI Bi-Direction</text>
    <text transform="translate(512.4,135) rotate(90)" font-family='"Liberation Sans", sans-serif' font-size="9" fill="#cfcfcf" textLength="17.2" lengthAdjust="spacingAndGlyphs">Switch</text>
  </g>
</g>
<g transform="translate(739.4,461.5) scale(-1,1)">
<rect x="58" y="-2.2" width="91.0" height="4.4" fill="#0d0d0e"/>
<rect x="52.5" y="-3.9" width="7.3" height="7.9" rx="1.2" fill="#111113"/>
<rect x="140.2" y="-3.9" width="7.5" height="7.900" rx="1.2" fill="#111113"/>
<rect x="0" y="-6.8" width="11.5" height="10.2" rx="0.8" fill="url(#cb_cream)"/>
<rect x="1" y="3.4" width="10" height="1.2" fill="#cfc6a0" opacity=".7"/>
<path d="M10.4,-10.2 L46,-8.200 Q53,-7.3 53,-3.600 L53,4.4 Q53,8 46,8.700 L12.5,9.3 Q10.4,9.3 10.4,7.800 Z" fill="url(#cb_left)"/>
<path d="M11,0.2 L52.5,-0.6 L52.5,3.2 L11,4.2 Z" fill="#7d818a" opacity=".75"/>
<path d="M152.0,-8.8 L190.5,-8.8 Q192.0,-8.8 192.0,-7.3 L192.0,9 Q192.0,10.5 190.5,10.5 L153.0,10.5 Q147.0,9.5 147.0,4.5 L147.0,-3.5 Q147.0,-8 152.0,-8.8 Z" fill="url(#cb_right)"/>
<rect x="148.0" y="-3.7" width="43" height="2.9" fill="#858b96" opacity=".8"/>
<rect x="167.0" y="-8.6" width="9" height="2" fill="#0b0c0e" opacity=".8"/>
<rect x="192.0" y="-5" width="11.4" height="11.6" rx="0.7" fill="url(#cb_gold)"/>
<rect x="192.5" y="-1.3" width="9" height="1.1" fill="#4a3a1c" opacity=".8"/>
<rect x="195.0" y="1.3" width="6.5" height="1" fill="#5a4622" opacity=".7"/>
<text x="0" y="0" transform="translate(31.3,-1.8) scale(-1,1)" font-family='"Liberation Sans", sans-serif' font-weight="700" font-size="4.6" fill="#f2f2f2" textLength="17.6" lengthAdjust="spacingAndGlyphs">SOURCE</text>
<polygon points="40.4,-4.8 43.8,-3.3 40.4,-1.7" fill="#f2f2f2"/>
<rect x="153.0" y="3.2" width="20" height="2.6" rx="0.6" fill="#2a303a" opacity=".55"/>
</g>
<path d="M854.9,412.2 L878.1,412.2 L878.9,423.2 Q880.0,426.2 883.7,428.1 L883.7,428.8 L849.3,428.8 L849.3,428.1 Q853.0,426.2 854.1,423.2 Z" fill="url(#st_g)"/>
<rect x="854.3" y="419.4" width="24.3" height="2.2" fill="#5a5a5e" opacity=".75"/>
<rect x="800.2" y="351" width="132.6" height="62.2" rx="3" fill="#0a0a0a"/>
<clipPath id="clipm2"><rect x="802.5" y="353.1" width="128.0" height="58.0" rx="1.3"/></clipPath>
<g clip-path="url(#clipm2)"><g transform="translate(801.6,352.4) scale(0.8653,0.8486)">
<g filter="url(#wb_base)"><rect x="-12.3" y="-12.3" width="25.1" height="24.3" fill="#7856a6"/><rect x="12.2" y="-12.3" width="13.1" height="24.3" fill="#c81414"/><rect x="24.7" y="-12.3" width="13.1" height="24.3" fill="#89322e"/><rect x="37.2" y="-12.3" width="13.1" height="24.3" fill="#e61a10"/><rect x="49.7" y="-12.3" width="13.1" height="24.3" fill="#743c2c"/><rect x="62.2" y="-12.3" width="13.1" height="24.3" fill="#cc6614"/><rect x="74.7" y="-12.3" width="13.1" height="24.3" fill="#f39010"/><rect x="87.2" y="-12.3" width="13.1" height="24.3" fill="#f3a510"/><rect x="99.7" y="-12.3" width="13.1" height="24.3" fill="#dca070"/><rect x="112.2" y="-12.3" width="13.1" height="24.3" fill="#4550d8"/><rect x="124.7" y="-12.3" width="13.1" height="24.3" fill="#2ba0cb"/><rect x="137.2" y="-12.3" width="25.1" height="24.3" fill="#408090"/><rect x="-12.3" y="11.4" width="25.1" height="12.3" fill="#5560d0"/><rect x="12.2" y="11.4" width="13.1" height="12.3" fill="#bc226e"/><rect x="24.7" y="11.4" width="13.1" height="12.3" fill="#a43230"/><rect x="37.2" y="11.4" width="13.1" height="12.3" fill="#e31510"/><rect x="49.7" y="11.4" width="13.1" height="12.3" fill="#9d3614"/><rect x="62.2" y="11.4" width="13.1" height="12.3" fill="#f38510"/><rect x="74.7" y="11.4" width="13.1" height="12.3" fill="#f5ab10"/><rect x="87.2" y="11.4" width="13.1" height="12.3" fill="#f5bb45"/><rect x="99.7" y="11.4" width="13.1" height="12.3" fill="#7a8898"/><rect x="112.2" y="11.4" width="13.1" height="12.3" fill="#25abb5"/><rect x="124.7" y="11.4" width="13.1" height="12.3" fill="#25bb70"/><rect x="137.2" y="11.4" width="25.1" height="12.3" fill="#688454"/><rect x="-12.3" y="23.0" width="25.1" height="12.3" fill="#ac5c9c"/><rect x="12.2" y="23.0" width="13.1" height="12.3" fill="#c02590"/><rect x="24.7" y="23.0" width="13.1" height="12.3" fill="#8025a5"/><rect x="37.2" y="23.0" width="13.1" height="12.3" fill="#c01b80"/><rect x="49.7" y="23.0" width="13.1" height="12.3" fill="#d82540"/><rect x="62.2" y="23.0" width="13.1" height="12.3" fill="#de782c"/><rect x="74.7" y="23.0" width="13.1" height="12.3" fill="#a29854"/><rect x="87.2" y="23.0" width="13.1" height="12.3" fill="#88985c"/><rect x="99.7" y="23.0" width="13.1" height="12.3" fill="#ab8030"/><rect x="112.2" y="23.0" width="13.1" height="12.3" fill="#907055"/><rect x="124.7" y="23.0" width="13.1" height="12.3" fill="#bb5545"/><rect x="137.2" y="23.0" width="25.1" height="12.3" fill="#f39b15"/><rect x="-12.3" y="34.7" width="25.1" height="12.3" fill="#f08535"/><rect x="12.2" y="34.7" width="13.1" height="12.3" fill="#e03535"/><rect x="24.7" y="34.7" width="13.1" height="12.3" fill="#b51d75"/><rect x="37.2" y="34.7" width="13.1" height="12.3" fill="#c01d65"/><rect x="49.7" y="34.7" width="13.1" height="12.3" fill="#d0206b"/><rect x="62.2" y="34.7" width="13.1" height="12.3" fill="#ac303c"/><rect x="74.7" y="34.7" width="13.1" height="12.3" fill="#ba7020"/><rect x="87.2" y="34.7" width="13.1" height="12.3" fill="#f06b10"/><rect x="99.7" y="34.7" width="13.1" height="12.3" fill="#f39b10"/><rect x="112.2" y="34.7" width="13.1" height="12.3" fill="#e3bb15"/><rect x="124.7" y="34.7" width="13.1" height="12.3" fill="#e6d434"/><rect x="137.2" y="34.7" width="25.1" height="12.3" fill="#cba01b"/><rect x="-12.3" y="46.4" width="25.1" height="12.3" fill="#e53b10"/><rect x="12.2" y="46.4" width="13.1" height="12.3" fill="#a0205c"/><rect x="24.7" y="46.4" width="13.1" height="12.3" fill="#801e4c"/><rect x="37.2" y="46.4" width="13.1" height="12.3" fill="#64265c"/><rect x="49.7" y="46.4" width="13.1" height="12.3" fill="#743c84"/><rect x="62.2" y="46.4" width="13.1" height="12.3" fill="#7c74ac"/><rect x="74.7" y="46.4" width="13.1" height="12.3" fill="#b48cb0"/><rect x="87.2" y="46.4" width="13.1" height="12.3" fill="#eb7b4b"/><rect x="99.7" y="46.4" width="13.1" height="12.3" fill="#f07b10"/><rect x="112.2" y="46.4" width="13.1" height="12.3" fill="#f39010"/><rect x="124.7" y="46.4" width="13.1" height="12.3" fill="#f39b10"/><rect x="137.2" y="46.4" width="25.1" height="12.3" fill="#e37b3b"/><rect x="-12.3" y="58.0" width="25.1" height="24.3" fill="#984c70"/><rect x="12.2" y="58.0" width="13.1" height="24.3" fill="#521d58"/><rect x="24.7" y="58.0" width="13.1" height="24.3" fill="#182654"/><rect x="37.2" y="58.0" width="13.1" height="24.3" fill="#194478"/><rect x="49.7" y="58.0" width="13.1" height="24.3" fill="#3c5a98"/><rect x="62.2" y="58.0" width="13.1" height="24.3" fill="#b0a0a0"/><rect x="74.7" y="58.0" width="13.1" height="24.3" fill="#a08094"/><rect x="87.2" y="58.0" width="13.1" height="24.3" fill="#d05b7b"/><rect x="99.7" y="58.0" width="13.1" height="24.3" fill="#f37010"/><rect x="112.2" y="58.0" width="13.1" height="24.3" fill="#f05010"/><rect x="124.7" y="58.0" width="13.1" height="24.3" fill="#f08010"/><rect x="137.2" y="58.0" width="25.1" height="24.3" fill="#d55075"/></g>
<g filter="url(#wb_band)"><path d="M84,33 Q104,20 124,-2" stroke="#3d58e0" stroke-width="9" fill="none"/><path d="M90,36 Q116,24 142,-2" stroke="#22b6b0" stroke-width="8" fill="none"/><path d="M96,39 Q126,28 154,6" stroke="#2fbf4c" stroke-width="9" fill="none"/><path d="M104,41 Q130,34 154,17" stroke="#6a30a8" stroke-width="3" fill="none"/><ellipse cx="46" cy="65" rx="25" ry="8" fill="#141a42"/><ellipse cx="24" cy="60" rx="12" ry="5" fill="#3a1450"/><ellipse cx="128" cy="39" rx="17" ry="6" fill="#f8d62c"/><ellipse cx="38" cy="12" rx="6" ry="12" fill="#3a0c0a" transform="rotate(-12 38 12)"/><ellipse cx="64" cy="10" rx="5" ry="11" fill="#3a2418" transform="rotate(8 64 10)"/><ellipse cx="5" cy="18" rx="6" ry="16" fill="#3a78d8" transform="rotate(-14 5 18)"/></g>
<g filter="url(#wb_streak)"><line x1="29.8" y1="33.5" x2="37.4" y2="43.4" stroke="#e02040" stroke-width="2.3"/><line x1="78.2" y1="15.1" x2="87.8" y2="6.8" stroke="#f09010" stroke-width="1.3"/><line x1="126.0" y1="33.8" x2="140.4" y2="39.8" stroke="#f8e020" stroke-width="1.2"/><line x1="119.2" y1="20.2" x2="133.1" y2="13.9" stroke="#20b0a0" stroke-width="1.6"/><line x1="61.7" y1="68.0" x2="70.8" y2="70.0" stroke="#9090b0" stroke-width="2.0"/><line x1="125.2" y1="30.3" x2="137.1" y2="27.4" stroke="#f08010" stroke-width="2.3"/><line x1="139.7" y1="66.7" x2="145.9" y2="58.9" stroke="#c030b0" stroke-width="1.8"/><line x1="9.9" y1="44.4" x2="15.0" y2="49.9" stroke="#e02020" stroke-width="2.2"/><line x1="5.8" y1="55.1" x2="14.2" y2="61.8" stroke="#d01010" stroke-width="1.3"/><line x1="109.0" y1="28.7" x2="123.6" y2="22.2" stroke="#a03090" stroke-width="1.5"/><line x1="85.8" y1="2.8" x2="95.8" y2="-5.9" stroke="#f0a010" stroke-width="2.4"/><line x1="52.2" y1="12.9" x2="53.6" y2="0.7" stroke="#c02010" stroke-width="1.8"/><line x1="139.4" y1="34.0" x2="149.9" y2="37.1" stroke="#f0c020" stroke-width="1.4"/><line x1="44.8" y1="53.3" x2="54.3" y2="61.7" stroke="#8060b0" stroke-width="1.2"/><line x1="142.6" y1="0.1" x2="151.2" y2="-4.8" stroke="#7030b0" stroke-width="1.6"/><line x1="51.7" y1="39.5" x2="56.9" y2="45.4" stroke="#c020a0" stroke-width="1.3"/><line x1="96.0" y1="19.2" x2="102.6" y2="14.9" stroke="#f0a0b0" stroke-width="1.5"/><line x1="123.4" y1="31.4" x2="132.0" y2="29.0" stroke="#f05020" stroke-width="1.8"/><line x1="116.3" y1="1.1" x2="124.4" y2="-3.8" stroke="#4050d8" stroke-width="2.1"/><line x1="117.5" y1="25.3" x2="129.3" y2="20.6" stroke="#3090e0" stroke-width="1.5"/><line x1="-3.2" y1="22.0" x2="6.5" y2="34.5" stroke="#8040c0" stroke-width="2.0"/><line x1="63.9" y1="53.4" x2="72.4" y2="56.1" stroke="#303070" stroke-width="2.2"/><line x1="11.6" y1="8.3" x2="18.3" y2="21.8" stroke="#a040d0" stroke-width="2.3"/><line x1="-4.9" y1="51.9" x2="1.1" y2="56.4" stroke="#3a1a0c" stroke-width="2.3"/><line x1="12.4" y1="69.0" x2="19.2" y2="74.6" stroke="#301040" stroke-width="1.8"/><line x1="18.6" y1="53.6" x2="27.5" y2="61.9" stroke="#101030" stroke-width="1.6"/><line x1="32.8" y1="41.7" x2="37.6" y2="46.8" stroke="#8020a0" stroke-width="1.2"/><line x1="13.4" y1="-3.9" x2="18.0" y2="6.5" stroke="#d81010" stroke-width="1.3"/><line x1="56.5" y1="22.3" x2="57.5" y2="30.4" stroke="#c02080" stroke-width="1.1"/><line x1="117.6" y1="43.4" x2="125.8" y2="37.0" stroke="#c0e020" stroke-width="2.1"/><line x1="62.5" y1="30.2" x2="65.8" y2="19.9" stroke="#f06010" stroke-width="1.1"/><line x1="34.1" y1="35.8" x2="43.3" y2="48.2" stroke="#d01860" stroke-width="1.6"/><line x1="114.3" y1="19.8" x2="127.7" y2="13.1" stroke="#20b090" stroke-width="2.1"/><line x1="109.1" y1="43.5" x2="114.8" y2="36.4" stroke="#f08010" stroke-width="1.6"/><line x1="82.9" y1="48.4" x2="87.4" y2="46.4" stroke="#f0b080" stroke-width="2.2"/><line x1="124.9" y1="75.4" x2="131.4" y2="65.2" stroke="#f08010" stroke-width="1.8"/><line x1="80.8" y1="6.4" x2="86.4" y2="1.2" stroke="#f09010" stroke-width="2.4"/><line x1="64.3" y1="49.4" x2="71.2" y2="51.8" stroke="#9080c0" stroke-width="2.4"/><line x1="27.9" y1="64.0" x2="38.4" y2="73.0" stroke="#2a50a8" stroke-width="2.0"/><line x1="108.8" y1="11.0" x2="120.9" y2="3.9" stroke="#4050d8" stroke-width="2.0"/><line x1="88.3" y1="44.5" x2="91.8" y2="38.7" stroke="#f05010" stroke-width="1.6"/><line x1="52.8" y1="16.7" x2="53.1" y2="25.5" stroke="#f03010" stroke-width="1.9"/><line x1="92.9" y1="2.3" x2="105.3" y2="-6.0" stroke="#9050d0" stroke-width="1.2"/><line x1="133.3" y1="43.6" x2="140.3" y2="49.5" stroke="#f0c020" stroke-width="1.3"/><line x1="22.8" y1="48.5" x2="28.3" y2="53.4" stroke="#e03020" stroke-width="1.3"/><line x1="117.3" y1="8.8" x2="127.2" y2="1.6" stroke="#6040d0" stroke-width="2.0"/><line x1="46.6" y1="24.8" x2="51.2" y2="35.3" stroke="#c01890" stroke-width="1.3"/><line x1="132.2" y1="3.9" x2="139.0" y2="-0.0" stroke="#3080e0" stroke-width="2.3"/><line x1="113.7" y1="60.8" x2="122.4" y2="49.4" stroke="#f8a010" stroke-width="1.2"/><line x1="45.4" y1="34.8" x2="53.6" y2="45.5" stroke="#e02030" stroke-width="2.0"/><line x1="22.1" y1="43.3" x2="27.4" y2="49.4" stroke="#e02040" stroke-width="1.8"/><line x1="95.8" y1="51.1" x2="100.0" y2="42.2" stroke="#f07010" stroke-width="1.3"/><line x1="106.8" y1="59.0" x2="111.4" y2="50.7" stroke="#f09010" stroke-width="1.2"/><line x1="68.8" y1="21.9" x2="74.5" y2="12.4" stroke="#f8a010" stroke-width="2.2"/><line x1="67.1" y1="73.6" x2="82.3" y2="73.7" stroke="#a090c0" stroke-width="1.2"/><line x1="83.4" y1="49.5" x2="87.8" y2="47.0" stroke="#c0b0e0" stroke-width="1.6"/><line x1="74.9" y1="40.9" x2="83.8" y2="39.8" stroke="#3a1a0c" stroke-width="2.3"/><line x1="79.6" y1="42.7" x2="87.0" y2="40.3" stroke="#102050" stroke-width="1.1"/><line x1="91.7" y1="7.8" x2="100.6" y2="1.0" stroke="#f09010" stroke-width="1.4"/><line x1="-2.8" y1="29.1" x2="6.5" y2="41.0" stroke="#f0a070" stroke-width="1.3"/><line x1="91.7" y1="2.2" x2="97.3" y2="-2.3" stroke="#f09010" stroke-width="1.5"/><line x1="45.6" y1="45.2" x2="55.0" y2="55.0" stroke="#e03020" stroke-width="1.5"/><line x1="138.6" y1="68.5" x2="147.9" y2="57.9" stroke="#f08010" stroke-width="1.6"/><line x1="102.2" y1="28.6" x2="112.8" y2="24.5" stroke="#f05010" stroke-width="1.1"/><line x1="100.4" y1="32.0" x2="110.1" y2="28.4" stroke="#f05010" stroke-width="1.8"/><line x1="29.8" y1="-9.5" x2="32.9" y2="1.9" stroke="#5a1010" stroke-width="1.3"/><line x1="86.1" y1="36.6" x2="90.6" y2="33.9" stroke="#e08060" stroke-width="2.2"/><line x1="46.0" y1="-5.1" x2="46.4" y2="2.2" stroke="#f01010" stroke-width="2.4"/><line x1="7.0" y1="28.2" x2="14.8" y2="37.8" stroke="#f0a070" stroke-width="2.1"/><line x1="148.0" y1="73.0" x2="154.1" y2="65.9" stroke="#f08010" stroke-width="2.2"/><line x1="50.3" y1="6.9" x2="50.7" y2="-0.3" stroke="#2a1426" stroke-width="1.8"/><line x1="22.6" y1="31.2" x2="29.2" y2="40.3" stroke="#e02020" stroke-width="1.6"/><line x1="53.9" y1="52.6" x2="58.9" y2="56.7" stroke="#102060" stroke-width="1.8"/><line x1="77.3" y1="57.5" x2="84.3" y2="55.9" stroke="#b0a0d0" stroke-width="2.3"/><line x1="59.7" y1="19.4" x2="63.4" y2="8.4" stroke="#f8a010" stroke-width="2.1"/><line x1="103.8" y1="73.2" x2="108.4" y2="66.9" stroke="#f07010" stroke-width="2.0"/><line x1="43.2" y1="38.5" x2="50.0" y2="47.2" stroke="#e02030" stroke-width="2.3"/><line x1="47.6" y1="20.1" x2="49.8" y2="29.6" stroke="#a020c0" stroke-width="1.7"/><line x1="26.9" y1="47.0" x2="31.6" y2="52.4" stroke="#c02080" stroke-width="1.4"/><line x1="26.0" y1="34.1" x2="35.5" y2="45.6" stroke="#e02040" stroke-width="2.1"/><line x1="88.4" y1="3.9" x2="100.3" y2="-5.4" stroke="#f09010" stroke-width="1.2"/><line x1="26.2" y1="56.5" x2="36.2" y2="64.9" stroke="#101020" stroke-width="2.1"/><line x1="138.6" y1="31.7" x2="152.0" y2="29.5" stroke="#f08010" stroke-width="1.2"/><line x1="70.7" y1="4.9" x2="74.4" y2="-1.7" stroke="#f08010" stroke-width="1.8"/><line x1="124.7" y1="2.9" x2="132.1" y2="-1.2" stroke="#20c0a0" stroke-width="2.3"/><line x1="131.1" y1="77.1" x2="137.3" y2="68.8" stroke="#f09010" stroke-width="1.3"/><line x1="53.5" y1="62.8" x2="67.8" y2="68.6" stroke="#a090c0" stroke-width="1.3"/><line x1="106.3" y1="21.2" x2="113.9" y2="16.7" stroke="#5060e0" stroke-width="1.7"/><line x1="67.6" y1="16.1" x2="72.4" y2="6.6" stroke="#f08010" stroke-width="1.2"/><line x1="114.1" y1="54.1" x2="118.9" y2="47.2" stroke="#f8a010" stroke-width="1.5"/><line x1="74.7" y1="39.2" x2="83.5" y2="37.4" stroke="#181838" stroke-width="2.1"/><line x1="31.1" y1="56.2" x2="37.6" y2="61.7" stroke="#c02080" stroke-width="1.2"/><line x1="113.8" y1="34.2" x2="121.6" y2="30.5" stroke="#f07010" stroke-width="1.1"/><line x1="49.0" y1="6.5" x2="49.9" y2="-6.5" stroke="#f03010" stroke-width="1.7"/><line x1="49.6" y1="5.4" x2="49.7" y2="-8.8" stroke="#e81810" stroke-width="1.4"/><line x1="113.9" y1="60.6" x2="117.8" y2="54.6" stroke="#f05010" stroke-width="1.2"/><line x1="0.3" y1="56.1" x2="10.8" y2="63.2" stroke="#8030b0" stroke-width="1.5"/><line x1="12.8" y1="56.1" x2="23.3" y2="65.7" stroke="#a01c50" stroke-width="1.7"/><line x1="16.5" y1="14.0" x2="24.6" y2="27.1" stroke="#d01020" stroke-width="1.9"/><line x1="83.4" y1="40.9" x2="90.1" y2="36.9" stroke="#102050" stroke-width="1.6"/><line x1="134.4" y1="75.1" x2="140.6" y2="66.7" stroke="#f08010" stroke-width="2.2"/><line x1="36.0" y1="67.7" x2="41.6" y2="72.5" stroke="#101840" stroke-width="1.6"/><line x1="131.4" y1="33.3" x2="144.8" y2="35.9" stroke="#f09010" stroke-width="2.2"/><line x1="118.6" y1="0.7" x2="131.9" y2="-7.9" stroke="#6040d0" stroke-width="1.7"/><line x1="81.1" y1="12.4" x2="87.7" y2="6.8" stroke="#f07010" stroke-width="2.4"/><line x1="93.2" y1="11.1" x2="103.2" y2="3.1" stroke="#f09010" stroke-width="1.3"/><line x1="73.7" y1="14.0" x2="83.9" y2="1.7" stroke="#f8b010" stroke-width="1.5"/><line x1="17.6" y1="2.6" x2="20.3" y2="9.2" stroke="#d81010" stroke-width="1.6"/><line x1="69.3" y1="5.3" x2="73.9" y2="-3.3" stroke="#6a7a20" stroke-width="1.1"/><line x1="112.0" y1="60.5" x2="116.4" y2="53.5" stroke="#f8a010" stroke-width="1.7"/><line x1="109.2" y1="22.6" x2="121.9" y2="15.6" stroke="#3090e0" stroke-width="1.3"/><line x1="27.2" y1="-3.3" x2="28.7" y2="3.6" stroke="#5a1010" stroke-width="2.2"/><line x1="148.6" y1="44.9" x2="156.8" y2="54.0" stroke="#f08010" stroke-width="1.5"/><line x1="27.5" y1="26.2" x2="33.6" y2="37.0" stroke="#7020a0" stroke-width="2.4"/><line x1="128.3" y1="65.9" x2="136.2" y2="56.4" stroke="#f07010" stroke-width="1.4"/><line x1="105.9" y1="18.0" x2="116.4" y2="12.7" stroke="#20b0a0" stroke-width="2.2"/><line x1="76.2" y1="32.2" x2="82.8" y2="28.7" stroke="#f0a030" stroke-width="1.5"/><line x1="55.0" y1="19.8" x2="57.6" y2="5.1" stroke="#e02010" stroke-width="1.7"/><line x1="101.6" y1="27.5" x2="115.2" y2="20.9" stroke="#f05010" stroke-width="2.0"/><line x1="71.7" y1="24.2" x2="76.7" y2="18.3" stroke="#f07010" stroke-width="1.5"/><line x1="-4.1" y1="33.2" x2="5.4" y2="42.8" stroke="#f06010" stroke-width="2.1"/><line x1="44.6" y1="36.0" x2="54.6" y2="47.2" stroke="#d01860" stroke-width="1.5"/><line x1="120.5" y1="43.5" x2="131.8" y2="42.0" stroke="#f8c010" stroke-width="2.4"/><line x1="16.6" y1="8.3" x2="19.7" y2="15.5" stroke="#9030c0" stroke-width="2.4"/><line x1="6.3" y1="26.4" x2="12.1" y2="34.5" stroke="#6050c0" stroke-width="2.3"/><line x1="7.5" y1="44.6" x2="14.2" y2="50.3" stroke="#f04010" stroke-width="1.6"/><line x1="91.4" y1="2.1" x2="103.3" y2="-6.0" stroke="#f8c818" stroke-width="2.2"/><line x1="58.6" y1="27.7" x2="58.5" y2="18.0" stroke="#e02020" stroke-width="2.3"/><line x1="107.6" y1="66.1" x2="112.3" y2="59.7" stroke="#f07010" stroke-width="1.7"/><line x1="72.1" y1="61.6" x2="78.3" y2="61.7" stroke="#c0b0d0" stroke-width="2.2"/><line x1="3.0" y1="24.2" x2="7.0" y2="30.5" stroke="#f0a070" stroke-width="2.4"/><line x1="27.1" y1="15.6" x2="30.5" y2="23.8" stroke="#801010" stroke-width="2.0"/><line x1="19.8" y1="50.7" x2="27.7" y2="58.4" stroke="#d02060" stroke-width="1.2"/><line x1="127.4" y1="33.5" x2="136.3" y2="34.9" stroke="#f05020" stroke-width="2.2"/><line x1="45.1" y1="69.7" x2="56.2" y2="77.6" stroke="#102050" stroke-width="1.9"/><line x1="77.2" y1="62.6" x2="81.6" y2="62.1" stroke="#b0a0d0" stroke-width="1.6"/><line x1="91.8" y1="54.4" x2="97.1" y2="47.1" stroke="#f08010" stroke-width="1.8"/><line x1="123.9" y1="59.9" x2="132.3" y2="48.8" stroke="#f08010" stroke-width="1.6"/><line x1="22.9" y1="15.2" x2="26.5" y2="22.9" stroke="#b030c0" stroke-width="2.3"/><line x1="79.4" y1="33.2" x2="83.6" y2="31.4" stroke="#f8c010" stroke-width="1.7"/><line x1="72.5" y1="13.8" x2="79.1" y2="4.3" stroke="#f08010" stroke-width="1.6"/><line x1="38.4" y1="15.2" x2="40.9" y2="25.8" stroke="#e81010" stroke-width="1.4"/><line x1="22.3" y1="37.1" x2="28.5" y2="44.0" stroke="#c01880" stroke-width="1.6"/><line x1="9.6" y1="61.5" x2="16.2" y2="66.0" stroke="#8030b0" stroke-width="2.2"/><line x1="-1.0" y1="29.9" x2="6.4" y2="38.7" stroke="#8040c0" stroke-width="2.0"/><line x1="120.0" y1="18.0" x2="126.2" y2="14.2" stroke="#3090e0" stroke-width="1.7"/><line x1="116.6" y1="9.0" x2="125.4" y2="3.5" stroke="#4050d8" stroke-width="1.2"/><line x1="111.1" y1="72.5" x2="116.6" y2="63.2" stroke="#f03010" stroke-width="1.5"/><line x1="43.2" y1="55.1" x2="55.2" y2="64.1" stroke="#e04060" stroke-width="1.3"/><line x1="5.3" y1="54.6" x2="12.9" y2="59.9" stroke="#f06010" stroke-width="2.0"/><line x1="36.8" y1="46.9" x2="44.2" y2="54.1" stroke="#8030a0" stroke-width="1.2"/><line x1="-6.0" y1="33.8" x2="1.6" y2="41.8" stroke="#f06010" stroke-width="2.1"/><line x1="28.9" y1="22.9" x2="35.7" y2="34.0" stroke="#7020a0" stroke-width="1.4"/><line x1="57.2" y1="38.9" x2="63.1" y2="44.9" stroke="#d02060" stroke-width="1.9"/><line x1="108.1" y1="40.4" x2="116.3" y2="33.0" stroke="#f08010" stroke-width="1.8"/><line x1="141.5" y1="72.3" x2="147.3" y2="66.1" stroke="#f08010" stroke-width="1.6"/><line x1="11.9" y1="30.5" x2="18.7" y2="39.4" stroke="#2a1426" stroke-width="1.1"/><line x1="129.8" y1="71.1" x2="136.8" y2="62.1" stroke="#f07010" stroke-width="2.1"/><line x1="42.3" y1="36.4" x2="47.4" y2="43.5" stroke="#d01860" stroke-width="1.2"/><line x1="77.0" y1="56.5" x2="82.7" y2="55.5" stroke="#8040a0" stroke-width="2.2"/><line x1="70.2" y1="28.6" x2="78.5" y2="19.9" stroke="#f08010" stroke-width="1.6"/><line x1="86.0" y1="2.9" x2="96.1" y2="-6.4" stroke="#f8c010" stroke-width="1.4"/><line x1="35.4" y1="30.1" x2="39.3" y2="36.6" stroke="#e02040" stroke-width="1.4"/><line x1="88.0" y1="18.0" x2="97.1" y2="11.6" stroke="#f8d010" stroke-width="1.7"/><line x1="81.2" y1="28.7" x2="93.1" y2="22.1" stroke="#30a070" stroke-width="1.5"/><line x1="30.7" y1="6.2" x2="33.5" y2="16.5" stroke="#500a10" stroke-width="1.7"/><line x1="81.8" y1="44.6" x2="86.7" y2="43.0" stroke="#f8b010" stroke-width="2.3"/><line x1="105.3" y1="77.6" x2="112.0" y2="67.2" stroke="#f07010" stroke-width="2.3"/><line x1="127.4" y1="71.8" x2="134.8" y2="61.6" stroke="#f08010" stroke-width="1.7"/><line x1="74.0" y1="2.4" x2="80.4" y2="-5.9" stroke="#f8b010" stroke-width="2.4"/><line x1="3.3" y1="61.0" x2="15.8" y2="69.5" stroke="#3080e0" stroke-width="1.5"/><line x1="25.4" y1="32.8" x2="34.8" y2="43.8" stroke="#e02040" stroke-width="1.4"/><line x1="35.3" y1="35.3" x2="44.5" y2="48.0" stroke="#9020a0" stroke-width="2.3"/><line x1="80.8" y1="8.5" x2="87.5" y2="1.7" stroke="#f8b010" stroke-width="2.3"/><line x1="135.2" y1="22.9" x2="148.3" y2="17.6" stroke="#20b060" stroke-width="2.1"/><line x1="111.6" y1="46.9" x2="116.5" y2="39.9" stroke="#f8c010" stroke-width="1.5"/><line x1="42.2" y1="32.5" x2="49.9" y2="44.2" stroke="#3a1a0c" stroke-width="1.7"/><line x1="68.6" y1="11.7" x2="75.9" y2="-0.9" stroke="#f08010" stroke-width="1.4"/><line x1="71.6" y1="33.5" x2="77.1" y2="29.0" stroke="#f8c010" stroke-width="2.0"/><line x1="108.1" y1="76.9" x2="116.8" y2="65.2" stroke="#f07010" stroke-width="2.2"/><line x1="1.2" y1="20.8" x2="7.6" y2="30.3" stroke="#8040c0" stroke-width="1.1"/><line x1="62.3" y1="45.6" x2="66.9" y2="48.1" stroke="#e02030" stroke-width="1.2"/><line x1="42.9" y1="53.1" x2="54.3" y2="63.6" stroke="#e03020" stroke-width="1.4"/><line x1="109.8" y1="49.9" x2="117.2" y2="38.8" stroke="#f09010" stroke-width="1.9"/><line x1="109.0" y1="32.0" x2="121.4" y2="27.9" stroke="#f07010" stroke-width="1.3"/><line x1="119.8" y1="67.3" x2="125.0" y2="58.8" stroke="#f03010" stroke-width="2.1"/><line x1="136.0" y1="35.9" x2="142.7" y2="39.7" stroke="#f0c020" stroke-width="2.3"/><line x1="84.0" y1="29.9" x2="95.8" y2="25.2" stroke="#e08060" stroke-width="1.1"/><line x1="63.6" y1="5.6" x2="67.7" y2="-5.1" stroke="#e84010" stroke-width="1.8"/><line x1="122.3" y1="13.6" x2="132.4" y2="8.4" stroke="#3080e0" stroke-width="1.7"/><line x1="24.9" y1="9.4" x2="31.0" y2="23.6" stroke="#3a1212" stroke-width="1.9"/><line x1="98.4" y1="8.7" x2="106.9" y2="1.8" stroke="#f8c818" stroke-width="1.7"/><line x1="116.4" y1="22.9" x2="125.3" y2="18.8" stroke="#20b090" stroke-width="2.4"/><line x1="33.0" y1="8.3" x2="35.0" y2="15.1" stroke="#500a10" stroke-width="1.1"/><line x1="5.6" y1="58.4" x2="16.1" y2="66.4" stroke="#3a1212" stroke-width="1.5"/><line x1="79.9" y1="26.3" x2="88.9" y2="20.2" stroke="#f09010" stroke-width="2.0"/><line x1="137.1" y1="67.9" x2="145.9" y2="55.4" stroke="#d040a0" stroke-width="1.6"/><line x1="-8.7" y1="66.7" x2="3.3" y2="75.5" stroke="#c01010" stroke-width="2.1"/><line x1="125.3" y1="2.1" x2="133.7" y2="-3.5" stroke="#20c0a0" stroke-width="1.6"/><line x1="29.5" y1="38.9" x2="36.4" y2="46.4" stroke="#8020a0" stroke-width="1.9"/><line x1="128.9" y1="-0.6" x2="142.1" y2="-7.4" stroke="#30a0e0" stroke-width="2.4"/><line x1="74.9" y1="60.9" x2="84.3" y2="59.4" stroke="#b0a0d0" stroke-width="2.1"/><line x1="25.3" y1="43.0" x2="31.9" y2="50.8" stroke="#e03020" stroke-width="1.5"/><line x1="97.2" y1="27.1" x2="104.2" y2="23.9" stroke="#f08010" stroke-width="2.4"/><line x1="88.1" y1="60.7" x2="94.1" y2="55.8" stroke="#f08010" stroke-width="1.4"/><line x1="75.3" y1="27.3" x2="82.0" y2="23.0" stroke="#806090" stroke-width="1.8"/><line x1="96.7" y1="48.3" x2="103.0" y2="34.2" stroke="#f09010" stroke-width="1.5"/><line x1="108.1" y1="10.1" x2="118.7" y2="2.5" stroke="#3060e0" stroke-width="1.4"/><line x1="101.2" y1="44.9" x2="104.5" y2="38.6" stroke="#f08010" stroke-width="1.8"/><line x1="2.6" y1="24.9" x2="8.1" y2="32.9" stroke="#f0a070" stroke-width="1.9"/><line x1="127.2" y1="32.4" x2="135.2" y2="32.0" stroke="#f05020" stroke-width="1.8"/><line x1="85.9" y1="24.9" x2="92.5" y2="21.4" stroke="#f09020" stroke-width="1.2"/><line x1="14.8" y1="39.5" x2="23.8" y2="50.0" stroke="#e02020" stroke-width="1.3"/><line x1="64.0" y1="65.8" x2="71.9" y2="66.3" stroke="#d0b040" stroke-width="1.2"/><line x1="107.2" y1="52.8" x2="112.7" y2="44.2" stroke="#f09010" stroke-width="2.3"/><line x1="18.4" y1="10.3" x2="22.1" y2="18.6" stroke="#b030c0" stroke-width="1.5"/><line x1="129.7" y1="41.4" x2="140.3" y2="50.5" stroke="#f8c010" stroke-width="2.2"/><line x1="123.9" y1="37.4" x2="132.8" y2="41.2" stroke="#f8c010" stroke-width="1.7"/><line x1="31.5" y1="23.5" x2="35.2" y2="31.8" stroke="#7020a0" stroke-width="2.3"/><line x1="37.7" y1="1.8" x2="38.8" y2="9.8" stroke="#3a1a0c" stroke-width="1.4"/><line x1="107.5" y1="6.6" x2="119.8" y2="-0.7" stroke="#6040d0" stroke-width="2.2"/><line x1="50.3" y1="37.5" x2="55.2" y2="43.8" stroke="#181838" stroke-width="2.2"/><line x1="89.8" y1="35.6" x2="98.4" y2="29.7" stroke="#f05010" stroke-width="1.4"/><line x1="77.4" y1="16.6" x2="87.5" y2="7.3" stroke="#f09010" stroke-width="1.6"/><line x1="3.8" y1="35.8" x2="14.2" y2="47.5" stroke="#f08020" stroke-width="1.9"/><line x1="75.3" y1="55.2" x2="83.0" y2="54.2" stroke="#a090c0" stroke-width="2.3"/><line x1="120.7" y1="9.5" x2="128.0" y2="4.9" stroke="#3080e0" stroke-width="2.4"/><line x1="104.5" y1="46.5" x2="110.5" y2="37.8" stroke="#f09010" stroke-width="1.6"/><line x1="3.4" y1="56.5" x2="13.4" y2="64.0" stroke="#3a1a0c" stroke-width="1.4"/><line x1="9.5" y1="10.5" x2="13.1" y2="17.6" stroke="#e01818" stroke-width="1.6"/><line x1="104.0" y1="21.3" x2="112.7" y2="17.2" stroke="#8050d0" stroke-width="1.3"/><line x1="105.6" y1="2.2" x2="114.8" y2="-3.6" stroke="#9050d0" stroke-width="1.1"/><line x1="52.4" y1="61.3" x2="58.7" y2="66.2" stroke="#203080" stroke-width="1.8"/><line x1="135.8" y1="72.6" x2="143.8" y2="62.7" stroke="#c030b0" stroke-width="1.9"/><line x1="68.9" y1="54.5" x2="78.2" y2="54.7" stroke="#b0a0d0" stroke-width="1.1"/><line x1="44.8" y1="28.7" x2="48.9" y2="37.5" stroke="#e01830" stroke-width="2.3"/><line x1="15.1" y1="23.5" x2="20.1" y2="31.3" stroke="#2a1426" stroke-width="1.1"/><line x1="41.2" y1="53.9" x2="49.7" y2="61.3" stroke="#e03020" stroke-width="2.2"/><line x1="19.8" y1="57.9" x2="27.2" y2="64.6" stroke="#102040" stroke-width="1.2"/><line x1="63.9" y1="27.1" x2="67.9" y2="18.2" stroke="#f07010" stroke-width="1.7"/><line x1="8.5" y1="-5.7" x2="14.9" y2="8.0" stroke="#3a80d8" stroke-width="1.4"/><line x1="90.2" y1="65.1" x2="99.6" y2="56.6" stroke="#e0a0b0" stroke-width="1.5"/><line x1="28.1" y1="42.5" x2="38.7" y2="53.6" stroke="#c02080" stroke-width="1.2"/><line x1="131.4" y1="24.6" x2="145.5" y2="19.3" stroke="#f05020" stroke-width="1.2"/><line x1="106.6" y1="54.5" x2="112.1" y2="46.4" stroke="#f08010" stroke-width="1.4"/><line x1="53.3" y1="8.4" x2="54.7" y2="0.1" stroke="#8a6a60" stroke-width="1.5"/><line x1="34.3" y1="62.9" x2="44.3" y2="71.4" stroke="#102060" stroke-width="2.4"/><line x1="146.7" y1="38.2" x2="157.0" y2="46.7" stroke="#809020" stroke-width="2.1"/><line x1="145.8" y1="8.5" x2="155.7" y2="2.9" stroke="#4060d0" stroke-width="1.4"/><line x1="27.0" y1="23.8" x2="31.1" y2="30.5" stroke="#5030b0" stroke-width="1.8"/><line x1="85.0" y1="67.4" x2="97.2" y2="57.4" stroke="#f06010" stroke-width="1.6"/><line x1="122.4" y1="38.0" x2="132.3" y2="40.6" stroke="#b0d020" stroke-width="1.4"/><line x1="13.1" y1="6.9" x2="18.9" y2="18.8" stroke="#e01818" stroke-width="1.8"/><line x1="7.0" y1="52.9" x2="14.1" y2="58.8" stroke="#f04010" stroke-width="2.1"/><line x1="65.5" y1="36.1" x2="67.3" y2="29.5" stroke="#f08010" stroke-width="2.0"/><line x1="49.1" y1="9.0" x2="49.6" y2="-3.4" stroke="#c02010" stroke-width="1.1"/><line x1="15.5" y1="67.5" x2="21.8" y2="71.9" stroke="#102040" stroke-width="1.5"/><line x1="58.4" y1="65.6" x2="69.4" y2="68.2" stroke="#9090b0" stroke-width="1.8"/><line x1="-5.3" y1="35.6" x2="2.2" y2="43.0" stroke="#f06010" stroke-width="1.9"/><line x1="30.4" y1="55.4" x2="40.2" y2="65.2" stroke="#e03020" stroke-width="1.4"/><line x1="103.1" y1="-0.9" x2="111.4" y2="-6.0" stroke="#f0a0c0" stroke-width="2.4"/><line x1="11.9" y1="45.2" x2="21.6" y2="55.4" stroke="#d02060" stroke-width="1.9"/><line x1="81.3" y1="49.6" x2="86.3" y2="47.8" stroke="#a090c0" stroke-width="1.8"/><line x1="47.9" y1="59.8" x2="55.7" y2="66.5" stroke="#203080" stroke-width="1.5"/><line x1="138.4" y1="49.9" x2="142.5" y2="56.5" stroke="#c03090" stroke-width="1.1"/><line x1="63.4" y1="61.5" x2="71.5" y2="63.2" stroke="#d0b040" stroke-width="1.3"/><line x1="1.2" y1="-6.5" x2="6.5" y2="5.9" stroke="#d01818" stroke-width="1.5"/><line x1="-8.7" y1="58.4" x2="0.9" y2="65.8" stroke="#3080e0" stroke-width="1.4"/><line x1="58.6" y1="28.5" x2="59.3" y2="19.4" stroke="#c02080" stroke-width="1.3"/><line x1="143.4" y1="8.9" x2="152.9" y2="3.3" stroke="#7030b0" stroke-width="2.0"/><line x1="124.2" y1="69.0" x2="128.1" y2="62.7" stroke="#f07010" stroke-width="1.2"/><line x1="148.8" y1="47.8" x2="158.1" y2="60.2" stroke="#f08010" stroke-width="2.0"/><line x1="1.5" y1="-0.9" x2="6.6" y2="10.3" stroke="#d01818" stroke-width="1.3"/><line x1="89.1" y1="26.5" x2="101.4" y2="21.3" stroke="#f09020" stroke-width="2.2"/><line x1="67.3" y1="37.1" x2="74.9" y2="41.3" stroke="#c02060" stroke-width="1.1"/><line x1="44.4" y1="40.4" x2="52.6" y2="49.7" stroke="#8030a0" stroke-width="2.2"/><line x1="9.4" y1="30.2" x2="18.0" y2="41.5" stroke="#181838" stroke-width="1.5"/><line x1="138.7" y1="34.2" x2="150.6" y2="40.5" stroke="#f09010" stroke-width="1.8"/><line x1="10.5" y1="38.9" x2="18.1" y2="46.5" stroke="#d02060" stroke-width="1.9"/><line x1="107.7" y1="68.6" x2="116.0" y2="57.0" stroke="#f03010" stroke-width="1.6"/><line x1="56.2" y1="16.6" x2="57.7" y2="6.7" stroke="#e02010" stroke-width="1.2"/><line x1="66.6" y1="21.6" x2="72.4" y2="12.3" stroke="#f8a010" stroke-width="1.8"/><line x1="58.7" y1="17.0" x2="61.1" y2="4.0" stroke="#f08010" stroke-width="2.3"/><line x1="63.6" y1="36.7" x2="67.7" y2="40.5" stroke="#202050" stroke-width="1.9"/><line x1="79.8" y1="8.1" x2="90.5" y2="-1.0" stroke="#f8b010" stroke-width="2.2"/><line x1="38.2" y1="57.5" x2="45.0" y2="63.6" stroke="#30b0e0" stroke-width="2.3"/><line x1="88.1" y1="34.1" x2="101.8" y2="27.4" stroke="#f09020" stroke-width="2.3"/><line x1="68.2" y1="72.3" x2="82.4" y2="72.4" stroke="#9090b0" stroke-width="1.4"/><line x1="56.7" y1="6.1" x2="60.1" y2="-8.2" stroke="#8a6a60" stroke-width="2.2"/><line x1="125.8" y1="35.1" x2="139.9" y2="41.9" stroke="#f8e080" stroke-width="2.2"/><line x1="132.1" y1="19.7" x2="142.7" y2="14.4" stroke="#30c040" stroke-width="1.8"/><line x1="91.2" y1="7.7" x2="101.4" y2="0.2" stroke="#f8c010" stroke-width="2.3"/><line x1="125.1" y1="52.4" x2="132.0" y2="44.6" stroke="#f08010" stroke-width="1.6"/><line x1="57.4" y1="38.6" x2="61.1" y2="42.3" stroke="#3a1212" stroke-width="2.3"/><line x1="103.0" y1="53.7" x2="106.8" y2="46.5" stroke="#f06010" stroke-width="1.9"/><line x1="119.1" y1="48.8" x2="130.7" y2="39.1" stroke="#f8e080" stroke-width="1.4"/><line x1="67.9" y1="15.8" x2="73.0" y2="7.1" stroke="#f08010" stroke-width="1.7"/><line x1="104.5" y1="9.0" x2="117.4" y2="1.2" stroke="#f8c818" stroke-width="1.9"/><line x1="28.4" y1="10.6" x2="31.5" y2="18.7" stroke="#d01010" stroke-width="1.5"/><line x1="53.5" y1="4.7" x2="55.0" y2="-5.3" stroke="#5a4a30" stroke-width="2.2"/><line x1="54.6" y1="6.0" x2="56.3" y2="-8.2" stroke="#2a1a10" stroke-width="1.2"/><line x1="15.4" y1="19.1" x2="21.6" y2="29.7" stroke="#c020a0" stroke-width="1.6"/><line x1="125.5" y1="20.1" x2="134.0" y2="15.5" stroke="#30c050" stroke-width="1.9"/><line x1="30.6" y1="43.6" x2="38.7" y2="52.5" stroke="#c02080" stroke-width="1.8"/><line x1="22.0" y1="45.2" x2="28.1" y2="51.0" stroke="#401040" stroke-width="2.1"/><line x1="143.2" y1="71.7" x2="148.8" y2="64.6" stroke="#d040a0" stroke-width="1.5"/><line x1="30.9" y1="13.0" x2="35.0" y2="24.1" stroke="#f0a090" stroke-width="2.3"/><line x1="76.7" y1="24.9" x2="87.8" y2="16.7" stroke="#f8b010" stroke-width="2.0"/><line x1="94.8" y1="5.8" x2="107.8" y2="-3.4" stroke="#f8c818" stroke-width="1.4"/><line x1="44.8" y1="58.2" x2="53.9" y2="66.6" stroke="#8078b0" stroke-width="2.1"/><line x1="14.6" y1="57.8" x2="25.3" y2="66.4" stroke="#102040" stroke-width="2.3"/><line x1="99.0" y1="16.5" x2="109.1" y2="9.9" stroke="#9050d0" stroke-width="2.0"/><line x1="97.6" y1="31.5" x2="105.6" y2="28.7" stroke="#f05010" stroke-width="1.6"/><line x1="108.5" y1="22.7" x2="120.7" y2="16.7" stroke="#20b090" stroke-width="2.0"/><line x1="149.3" y1="3.8" x2="158.0" y2="-0.2" stroke="#7030b0" stroke-width="1.3"/><line x1="113.1" y1="74.8" x2="118.0" y2="67.9" stroke="#f07010" stroke-width="2.2"/><line x1="105.5" y1="65.5" x2="112.7" y2="55.6" stroke="#f09010" stroke-width="1.5"/><line x1="130.2" y1="75.7" x2="138.1" y2="65.7" stroke="#f08010" stroke-width="2.3"/><line x1="41.7" y1="8.0" x2="42.9" y2="18.7" stroke="#3a1a0c" stroke-width="2.4"/><line x1="112.2" y1="41.0" x2="121.2" y2="33.4" stroke="#f8c010" stroke-width="1.7"/><line x1="0.3" y1="66.7" x2="10.1" y2="74.0" stroke="#8030b0" stroke-width="2.3"/><line x1="35.4" y1="12.6" x2="38.5" y2="23.6" stroke="#e81010" stroke-width="1.7"/><line x1="135.0" y1="78.1" x2="141.6" y2="69.4" stroke="#f07010" stroke-width="2.1"/><line x1="107.3" y1="16.5" x2="114.5" y2="12.0" stroke="#20b090" stroke-width="1.2"/><line x1="9.1" y1="2.4" x2="13.7" y2="13.0" stroke="#e82020" stroke-width="1.3"/><line x1="141.9" y1="47.9" x2="150.0" y2="56.6" stroke="#c03090" stroke-width="1.2"/><line x1="31.1" y1="28.0" x2="34.6" y2="34.3" stroke="#c020a0" stroke-width="1.1"/><line x1="102.1" y1="26.7" x2="109.6" y2="23.6" stroke="#20b070" stroke-width="2.4"/><line x1="116.6" y1="71.1" x2="121.9" y2="61.9" stroke="#f03010" stroke-width="1.2"/><line x1="55.5" y1="65.4" x2="63.5" y2="70.3" stroke="#203080" stroke-width="2.0"/><line x1="57.0" y1="26.6" x2="59.7" y2="35.9" stroke="#e83020" stroke-width="2.0"/><line x1="14.6" y1="6.1" x2="19.2" y2="16.1" stroke="#9030c0" stroke-width="1.6"/><line x1="-2.3" y1="7.6" x2="1.9" y2="14.9" stroke="#3a1212" stroke-width="1.9"/><line x1="116.9" y1="68.3" x2="124.5" y2="55.4" stroke="#f07010" stroke-width="1.4"/><line x1="135.8" y1="69.9" x2="143.2" y2="60.1" stroke="#c030b0" stroke-width="2.0"/><line x1="35.7" y1="-8.5" x2="37.5" y2="2.2" stroke="#3a0a08" stroke-width="1.8"/><line x1="34.0" y1="31.3" x2="39.6" y2="40.7" stroke="#8020a0" stroke-width="1.9"/><line x1="124.5" y1="11.8" x2="131.3" y2="7.6" stroke="#30a0e0" stroke-width="1.7"/><line x1="101.6" y1="3.2" x2="113.9" y2="-4.8" stroke="#f8c818" stroke-width="2.2"/><line x1="20.0" y1="23.9" x2="26.4" y2="33.8" stroke="#7020a0" stroke-width="1.5"/><line x1="61.3" y1="59.3" x2="65.8" y2="61.1" stroke="#8080b0" stroke-width="1.6"/><line x1="132.7" y1="71.8" x2="138.5" y2="64.1" stroke="#f08010" stroke-width="1.5"/><line x1="133.6" y1="57.8" x2="138.0" y2="50.2" stroke="#f09010" stroke-width="1.1"/><line x1="30.6" y1="11.1" x2="33.4" y2="20.6" stroke="#801010" stroke-width="1.7"/><line x1="95.0" y1="45.7" x2="99.3" y2="34.9" stroke="#f05010" stroke-width="1.6"/><line x1="-5.0" y1="61.7" x2="5.7" y2="69.5" stroke="#3a1a0c" stroke-width="1.2"/><line x1="43.7" y1="40.8" x2="52.9" y2="50.8" stroke="#8030a0" stroke-width="2.4"/><line x1="128.2" y1="56.0" x2="135.3" y2="46.8" stroke="#f8c010" stroke-width="2.0"/><line x1="64.9" y1="34.1" x2="72.4" y2="39.0" stroke="#202050" stroke-width="1.7"/><line x1="131.9" y1="58.9" x2="137.5" y2="50.3" stroke="#f8c010" stroke-width="1.9"/><line x1="26.5" y1="8.9" x2="29.3" y2="15.8" stroke="#d01010" stroke-width="2.4"/><line x1="60.5" y1="33.1" x2="63.8" y2="38.7" stroke="#f8c010" stroke-width="2.1"/><line x1="19.1" y1="54.6" x2="26.1" y2="60.4" stroke="#301040" stroke-width="2.3"/><line x1="106.2" y1="74.6" x2="112.6" y2="64.4" stroke="#f8b010" stroke-width="2.0"/><line x1="66.7" y1="36.1" x2="69.6" y2="30.9" stroke="#f8c010" stroke-width="2.3"/><line x1="22.6" y1="25.3" x2="27.4" y2="32.7" stroke="#7020a0" stroke-width="1.4"/><line x1="11.1" y1="8.7" x2="17.8" y2="20.8" stroke="#d01020" stroke-width="1.8"/><line x1="141.6" y1="10.3" x2="147.9" y2="7.3" stroke="#7030b0" stroke-width="1.4"/><line x1="31.0" y1="54.7" x2="38.6" y2="62.4" stroke="#c02080" stroke-width="2.3"/><line x1="129.1" y1="1.2" x2="137.3" y2="-3.5" stroke="#30a0e0" stroke-width="1.6"/><line x1="50.4" y1="36.6" x2="54.5" y2="42.3" stroke="#d01860" stroke-width="2.2"/><line x1="10.5" y1="18.4" x2="16.4" y2="27.4" stroke="#f0a070" stroke-width="2.1"/><line x1="5.5" y1="65.2" x2="12.2" y2="70.6" stroke="#c01010" stroke-width="1.2"/><line x1="102.5" y1="20.6" x2="113.7" y2="14.0" stroke="#20b0a0" stroke-width="1.6"/><line x1="41.9" y1="48.0" x2="52.6" y2="58.9" stroke="#e03020" stroke-width="2.0"/><line x1="110.0" y1="11.3" x2="122.6" y2="3.9" stroke="#4050d8" stroke-width="2.2"/><line x1="128.6" y1="28.4" x2="142.2" y2="23.5" stroke="#f09010" stroke-width="2.2"/><line x1="-2.3" y1="-6.6" x2="1.7" y2="3.4" stroke="#3a80d8" stroke-width="1.2"/><line x1="38.8" y1="59.0" x2="49.6" y2="67.9" stroke="#142a60" stroke-width="1.9"/><line x1="75.2" y1="8.3" x2="85.0" y2="-1.6" stroke="#f8b010" stroke-width="1.5"/><line x1="17.5" y1="34.8" x2="24.0" y2="42.5" stroke="#e02020" stroke-width="1.8"/><line x1="132.8" y1="24.9" x2="143.5" y2="21.9" stroke="#f07010" stroke-width="1.3"/><line x1="73.2" y1="8.8" x2="77.5" y2="2.8" stroke="#f8b010" stroke-width="1.6"/><line x1="3.0" y1="60.9" x2="11.6" y2="67.6" stroke="#3080e0" stroke-width="1.8"/><line x1="0.1" y1="6.9" x2="4.7" y2="15.3" stroke="#3070d0" stroke-width="1.3"/><line x1="22.7" y1="-6.3" x2="25.4" y2="2.3" stroke="#a01010" stroke-width="1.8"/><line x1="146.8" y1="35.8" x2="158.2" y2="44.9" stroke="#809020" stroke-width="1.6"/><line x1="2.2" y1="14.3" x2="9.8" y2="26.2" stroke="#3070d0" stroke-width="2.1"/><line x1="56.1" y1="52.8" x2="62.3" y2="57.3" stroke="#181838" stroke-width="1.5"/><line x1="115.2" y1="61.8" x2="123.5" y2="48.5" stroke="#f8a010" stroke-width="1.5"/><line x1="139.2" y1="64.4" x2="143.7" y2="51.6" stroke="#f08010" stroke-width="2.3"/><line x1="53.1" y1="47.8" x2="57.6" y2="52.3" stroke="#8060b0" stroke-width="1.2"/><line x1="55.6" y1="35.1" x2="58.4" y2="39.7" stroke="#c020a0" stroke-width="1.7"/><line x1="71.3" y1="54.5" x2="76.2" y2="54.8" stroke="#8080b0" stroke-width="2.2"/><line x1="38.2" y1="17.0" x2="40.3" y2="24.7" stroke="#f0a090" stroke-width="1.4"/><line x1="138.4" y1="60.5" x2="141.0" y2="53.0" stroke="#f8c010" stroke-width="2.2"/><line x1="70.7" y1="5.6" x2="75.6" y2="-2.1" stroke="#f08010" stroke-width="2.1"/><line x1="46.9" y1="53.4" x2="57.1" y2="62.7" stroke="#e04060" stroke-width="1.3"/><line x1="-6.2" y1="55.6" x2="0.9" y2="61.2" stroke="#d01010" stroke-width="2.3"/><line x1="127.1" y1="71.2" x2="132.4" y2="62.4" stroke="#f07010" stroke-width="2.2"/><line x1="130.7" y1="22.0" x2="144.4" y2="17.2" stroke="#20b0a0" stroke-width="1.9"/><line x1="145.0" y1="67.9" x2="152.8" y2="58.6" stroke="#d040a0" stroke-width="2.0"/><line x1="41.0" y1="50.3" x2="48.1" y2="57.6" stroke="#e03020" stroke-width="1.8"/><line x1="140.8" y1="40.3" x2="147.6" y2="45.8" stroke="#809020" stroke-width="1.6"/><line x1="80.5" y1="34.9" x2="92.2" y2="28.9" stroke="#f0a030" stroke-width="1.8"/><line x1="81.9" y1="42.2" x2="89.9" y2="38.1" stroke="#f8b010" stroke-width="1.6"/><line x1="8.2" y1="-9.1" x2="14.5" y2="4.1" stroke="#3a80d8" stroke-width="1.1"/><line x1="115.0" y1="22.0" x2="122.1" y2="18.6" stroke="#3090e0" stroke-width="2.0"/><line x1="42.7" y1="6.5" x2="44.5" y2="16.9" stroke="#d01010" stroke-width="2.2"/><line x1="103.5" y1="63.4" x2="108.1" y2="55.7" stroke="#f09010" stroke-width="1.6"/><line x1="125.1" y1="55.0" x2="134.0" y2="44.8" stroke="#f09010" stroke-width="1.4"/><line x1="122.5" y1="64.9" x2="128.5" y2="55.9" stroke="#f07010" stroke-width="1.7"/><line x1="29.6" y1="62.8" x2="37.7" y2="70.5" stroke="#182858" stroke-width="1.4"/><line x1="108.2" y1="21.7" x2="117.0" y2="16.7" stroke="#8050d0" stroke-width="1.1"/><line x1="93.3" y1="6.8" x2="104.1" y2="-0.5" stroke="#f09010" stroke-width="1.9"/><line x1="126.2" y1="79.1" x2="134.1" y2="68.5" stroke="#f07010" stroke-width="1.3"/><line x1="-1.8" y1="45.4" x2="5.0" y2="51.6" stroke="#f06010" stroke-width="2.1"/><line x1="4.1" y1="10.0" x2="12.0" y2="22.9" stroke="#3070d0" stroke-width="1.5"/><line x1="108.7" y1="25.1" x2="117.8" y2="21.2" stroke="#f07010" stroke-width="1.7"/><line x1="13.2" y1="4.7" x2="17.8" y2="14.4" stroke="#3a80d8" stroke-width="1.6"/><line x1="138.9" y1="74.9" x2="143.4" y2="69.2" stroke="#c030b0" stroke-width="2.2"/><line x1="114.9" y1="46.7" x2="126.0" y2="36.2" stroke="#f09010" stroke-width="1.8"/><line x1="30.1" y1="53.0" x2="40.7" y2="62.5" stroke="#401860" stroke-width="1.3"/><line x1="36.0" y1="34.1" x2="44.7" y2="45.9" stroke="#e02030" stroke-width="1.8"/><line x1="143.5" y1="73.3" x2="148.0" y2="67.6" stroke="#d040a0" stroke-width="1.1"/><line x1="147.4" y1="37.7" x2="154.6" y2="44.4" stroke="#f0c020" stroke-width="2.1"/><line x1="139.2" y1="36.2" x2="147.3" y2="41.2" stroke="#f09010" stroke-width="1.9"/><line x1="100.8" y1="0.9" x2="111.4" y2="-7.3" stroke="#f0a0c0" stroke-width="2.1"/><line x1="100.7" y1="32.3" x2="113.6" y2="27.5" stroke="#20b070" stroke-width="2.3"/><line x1="39.7" y1="51.7" x2="48.5" y2="60.6" stroke="#8030a0" stroke-width="1.7"/><line x1="6.0" y1="0.1" x2="12.2" y2="13.5" stroke="#3a80d8" stroke-width="1.9"/><line x1="20.5" y1="-3.5" x2="24.5" y2="10.4" stroke="#a01010" stroke-width="1.4"/><line x1="116.9" y1="44.2" x2="127.6" y2="35.7" stroke="#f8c010" stroke-width="1.6"/><line x1="147.2" y1="14.8" x2="158.0" y2="10.5" stroke="#7030b0" stroke-width="2.4"/><line x1="128.2" y1="27.9" x2="139.1" y2="24.8" stroke="#20c060" stroke-width="2.3"/><line x1="0.2" y1="7.4" x2="5.7" y2="16.8" stroke="#3070d0" stroke-width="1.5"/><line x1="34.3" y1="18.0" x2="38.3" y2="27.6" stroke="#d01010" stroke-width="2.2"/><line x1="34.3" y1="54.3" x2="41.8" y2="62.0" stroke="#201030" stroke-width="2.1"/><line x1="51.2" y1="56.0" x2="58.0" y2="61.7" stroke="#102050" stroke-width="1.6"/><line x1="131.8" y1="32.4" x2="144.0" y2="32.1" stroke="#f08010" stroke-width="1.9"/><line x1="69.9" y1="60.5" x2="75.3" y2="60.8" stroke="#d0b040" stroke-width="2.3"/><line x1="70.9" y1="36.2" x2="78.1" y2="33.9" stroke="#f8b010" stroke-width="1.6"/><line x1="112.3" y1="0.7" x2="123.9" y2="-7.7" stroke="#3060e0" stroke-width="1.7"/><line x1="130.1" y1="16.3" x2="140.7" y2="10.9" stroke="#3080e0" stroke-width="1.8"/><line x1="36.2" y1="-1.2" x2="37.9" y2="10.7" stroke="#e81810" stroke-width="1.6"/><line x1="12.3" y1="11.3" x2="16.7" y2="18.9" stroke="#3070d0" stroke-width="1.9"/><line x1="136.2" y1="3.3" x2="150.3" y2="-4.1" stroke="#30c040" stroke-width="1.5"/><line x1="74.6" y1="71.2" x2="90.0" y2="69.1" stroke="#b0a0d0" stroke-width="2.2"/><line x1="51.6" y1="13.2" x2="52.8" y2="3.9" stroke="#c02010" stroke-width="1.8"/><line x1="72.5" y1="8.0" x2="78.8" y2="-0.1" stroke="#f09010" stroke-width="2.2"/><line x1="133.9" y1="34.4" x2="147.2" y2="42.1" stroke="#809020" stroke-width="2.0"/><line x1="119.3" y1="16.5" x2="126.9" y2="12.6" stroke="#6040d0" stroke-width="1.8"/><line x1="68.0" y1="29.2" x2="78.3" y2="17.1" stroke="#f08010" stroke-width="2.1"/><line x1="49.0" y1="64.8" x2="55.2" y2="69.2" stroke="#8078b0" stroke-width="1.6"/><line x1="79.1" y1="27.3" x2="90.7" y2="21.5" stroke="#806090" stroke-width="2.2"/><line x1="143.9" y1="15.7" x2="154.2" y2="10.8" stroke="#20b060" stroke-width="2.3"/><line x1="127.4" y1="21.1" x2="134.6" y2="18.3" stroke="#20b0a0" stroke-width="1.8"/><line x1="102.8" y1="29.3" x2="113.9" y2="25.9" stroke="#f05010" stroke-width="1.2"/><line x1="33.1" y1="42.1" x2="42.4" y2="52.9" stroke="#e03020" stroke-width="1.1"/><line x1="135.1" y1="38.5" x2="141.2" y2="43.8" stroke="#f0c020" stroke-width="1.6"/><line x1="140.7" y1="61.0" x2="140.4" y2="51.9" stroke="#c030b0" stroke-width="1.5"/><line x1="70.3" y1="28.4" x2="78.1" y2="20.2" stroke="#f08010" stroke-width="1.8"/><line x1="31.8" y1="66.5" x2="39.3" y2="72.4" stroke="#182858" stroke-width="1.5"/><line x1="80.0" y1="11.0" x2="87.9" y2="3.6" stroke="#f8b010" stroke-width="1.6"/><line x1="104.1" y1="17.2" x2="115.8" y2="10.5" stroke="#20b0a0" stroke-width="1.8"/><line x1="118.3" y1="59.4" x2="121.9" y2="53.3" stroke="#f09010" stroke-width="2.2"/><line x1="110.5" y1="42.0" x2="119.8" y2="33.3" stroke="#c0e020" stroke-width="1.6"/><line x1="124.8" y1="76.3" x2="131.9" y2="65.6" stroke="#f07010" stroke-width="2.0"/><line x1="124.0" y1="71.6" x2="128.7" y2="64.5" stroke="#f08010" stroke-width="1.2"/><line x1="20.2" y1="-7.0" x2="23.6" y2="4.8" stroke="#181838" stroke-width="2.0"/><line x1="46.6" y1="17.2" x2="49.7" y2="28.4" stroke="#2a1426" stroke-width="1.9"/><line x1="35.3" y1="8.7" x2="37.6" y2="17.5" stroke="#500a10" stroke-width="1.7"/><line x1="28.1" y1="5.1" x2="33.2" y2="19.0" stroke="#3a0a08" stroke-width="2.1"/><line x1="140.2" y1="77.3" x2="147.9" y2="69.1" stroke="#f08010" stroke-width="1.7"/><line x1="50.2" y1="5.7" x2="50.2" y2="-2.3" stroke="#2a1a10" stroke-width="2.2"/><line x1="47.9" y1="47.2" x2="55.4" y2="55.1" stroke="#8060b0" stroke-width="1.4"/><line x1="60.4" y1="32.5" x2="62.6" y2="37.1" stroke="#c020a0" stroke-width="1.2"/><line x1="19.5" y1="61.9" x2="32.2" y2="71.5" stroke="#101030" stroke-width="2.1"/><line x1="118.5" y1="7.8" x2="131.4" y2="0.1" stroke="#30a0e0" stroke-width="2.2"/><line x1="132.5" y1="7.5" x2="145.0" y2="1.4" stroke="#30a0e0" stroke-width="1.6"/><line x1="56.2" y1="63.6" x2="68.8" y2="69.0" stroke="#40a0e0" stroke-width="1.2"/><line x1="14.2" y1="0.4" x2="18.2" y2="12.4" stroke="#e82020" stroke-width="1.3"/><line x1="1.2" y1="35.2" x2="9.9" y2="44.8" stroke="#f08020" stroke-width="1.5"/><line x1="14.4" y1="32.2" x2="20.6" y2="39.1" stroke="#a020b0" stroke-width="2.2"/><line x1="26.5" y1="-3.9" x2="28.9" y2="3.7" stroke="#f0a090" stroke-width="1.7"/><line x1="117.0" y1="26.9" x2="126.9" y2="23.7" stroke="#20b060" stroke-width="2.2"/><line x1="27.5" y1="27.9" x2="32.3" y2="34.9" stroke="#c020a0" stroke-width="2.3"/><line x1="85.2" y1="29.0" x2="97.1" y2="23.7" stroke="#30a070" stroke-width="1.2"/><line x1="25.1" y1="55.7" x2="32.4" y2="61.9" stroke="#2a50a8" stroke-width="1.5"/><line x1="53.0" y1="15.5" x2="54.8" y2="31.2" stroke="#e02010" stroke-width="1.3"/><line x1="105.5" y1="14.3" x2="113.2" y2="9.0" stroke="#f8c818" stroke-width="2.2"/><line x1="67.7" y1="36.9" x2="76.5" y2="39.5" stroke="#202050" stroke-width="1.7"/><line x1="140.7" y1="45.2" x2="147.2" y2="51.4" stroke="#f08010" stroke-width="2.0"/><line x1="94.2" y1="74.2" x2="100.0" y2="68.5" stroke="#a030a0" stroke-width="2.1"/><line x1="-0.4" y1="32.0" x2="5.6" y2="38.9" stroke="#f0a070" stroke-width="1.6"/><line x1="137.1" y1="59.9" x2="140.1" y2="50.9" stroke="#f8c010" stroke-width="1.3"/><line x1="141.2" y1="47.5" x2="150.4" y2="57.5" stroke="#c03090" stroke-width="1.5"/><line x1="18.9" y1="33.9" x2="24.5" y2="40.3" stroke="#e02020" stroke-width="1.1"/><line x1="22.7" y1="6.0" x2="26.4" y2="17.5" stroke="#c01010" stroke-width="2.3"/><line x1="23.4" y1="5.0" x2="27.7" y2="17.1" stroke="#3a0a08" stroke-width="1.7"/><line x1="47.2" y1="60.5" x2="56.9" y2="67.2" stroke="#40a0e0" stroke-width="2.3"/><line x1="129.1" y1="28.1" x2="141.1" y2="24.8" stroke="#f8c020" stroke-width="1.2"/><line x1="77.8" y1="22.9" x2="87.1" y2="16.6" stroke="#f09010" stroke-width="1.4"/><line x1="54.5" y1="23.8" x2="55.1" y2="9.1" stroke="#2a1426" stroke-width="2.0"/><line x1="60.7" y1="53.5" x2="66.3" y2="56.0" stroke="#3a1212" stroke-width="1.2"/><line x1="127.2" y1="17.1" x2="138.4" y2="12.2" stroke="#20c060" stroke-width="2.1"/><line x1="107.1" y1="10.7" x2="118.1" y2="3.1" stroke="#4050d8" stroke-width="2.1"/><line x1="66.1" y1="55.1" x2="75.5" y2="56.2" stroke="#303070" stroke-width="1.9"/><line x1="97.4" y1="23.3" x2="109.9" y2="16.3" stroke="#20b0a0" stroke-width="2.2"/><line x1="2.9" y1="66.0" x2="13.0" y2="72.7" stroke="#c01010" stroke-width="1.3"/><line x1="82.0" y1="58.9" x2="87.6" y2="56.5" stroke="#703080" stroke-width="1.7"/><line x1="126.8" y1="25.5" x2="136.7" y2="22.6" stroke="#30c050" stroke-width="1.7"/><line x1="148.5" y1="36.7" x2="158.4" y2="45.5" stroke="#f0c020" stroke-width="2.3"/><line x1="101.2" y1="70.3" x2="107.1" y2="61.9" stroke="#f8b010" stroke-width="1.6"/><line x1="7.8" y1="8.1" x2="12.4" y2="17.7" stroke="#2a1426" stroke-width="1.4"/><line x1="14.6" y1="-4.6" x2="20.0" y2="8.8" stroke="#a01010" stroke-width="2.0"/><line x1="126.6" y1="3.7" x2="135.0" y2="-1.1" stroke="#30a0e0" stroke-width="2.0"/><line x1="22.7" y1="10.1" x2="25.2" y2="17.1" stroke="#e01818" stroke-width="1.4"/><line x1="57.8" y1="20.0" x2="59.3" y2="11.3" stroke="#e02010" stroke-width="1.4"/><line x1="135.0" y1="44.9" x2="141.1" y2="51.6" stroke="#f8c010" stroke-width="1.4"/><line x1="98.6" y1="9.5" x2="108.2" y2="3.0" stroke="#f8c818" stroke-width="2.4"/><line x1="144.3" y1="17.8" x2="152.9" y2="14.3" stroke="#6030a0" stroke-width="1.2"/><line x1="-7.0" y1="59.8" x2="3.9" y2="66.7" stroke="#3080e0" stroke-width="2.3"/><line x1="48.0" y1="34.3" x2="57.6" y2="46.8" stroke="#e02040" stroke-width="1.6"/><line x1="45.7" y1="19.5" x2="49.6" y2="31.3" stroke="#181838" stroke-width="1.7"/><line x1="105.1" y1="17.6" x2="113.2" y2="13.3" stroke="#5060e0" stroke-width="2.1"/><line x1="-6.0" y1="66.3" x2="4.8" y2="73.9" stroke="#3080e0" stroke-width="2.3"/><line x1="133.0" y1="12.0" x2="141.6" y2="8.2" stroke="#4060d0" stroke-width="2.4"/><line x1="104.4" y1="14.0" x2="117.7" y2="5.5" stroke="#5060e0" stroke-width="2.2"/><line x1="139.8" y1="66.9" x2="147.9" y2="56.9" stroke="#f08010" stroke-width="2.0"/><line x1="58.9" y1="25.8" x2="60.3" y2="34.2" stroke="#e02020" stroke-width="2.4"/><line x1="146.1" y1="67.3" x2="153.0" y2="58.0" stroke="#f08010" stroke-width="2.0"/><line x1="32.1" y1="-1.8" x2="33.5" y2="7.0" stroke="#5a1010" stroke-width="1.8"/><line x1="80.4" y1="4.6" x2="89.7" y2="-4.2" stroke="#f07010" stroke-width="1.7"/><line x1="115.2" y1="22.0" x2="128.4" y2="16.0" stroke="#20c0b0" stroke-width="1.2"/><line x1="86.6" y1="21.1" x2="92.7" y2="16.9" stroke="#f0a0b0" stroke-width="1.9"/><line x1="30.5" y1="-5.2" x2="33.2" y2="5.9" stroke="#f0a090" stroke-width="1.6"/><line x1="27.3" y1="14.2" x2="30.0" y2="21.4" stroke="#500a10" stroke-width="1.7"/><line x1="134.6" y1="24.4" x2="141.6" y2="21.7" stroke="#f08010" stroke-width="2.3"/><line x1="94.1" y1="30.3" x2="104.3" y2="26.0" stroke="#f05010" stroke-width="1.8"/><line x1="-7.2" y1="57.6" x2="4.9" y2="65.9" stroke="#f07020" stroke-width="1.2"/><line x1="9.6" y1="63.1" x2="18.8" y2="70.9" stroke="#301040" stroke-width="1.3"/><line x1="-5.9" y1="31.3" x2="-1.6" y2="36.9" stroke="#f0b070" stroke-width="1.4"/><line x1="21.1" y1="37.5" x2="28.5" y2="46.2" stroke="#d02060" stroke-width="1.6"/><line x1="102.5" y1="40.0" x2="114.7" y2="30.4" stroke="#f08010" stroke-width="2.2"/><line x1="-2.5" y1="13.7" x2="3.7" y2="24.1" stroke="#3070d0" stroke-width="2.1"/><line x1="142.4" y1="3.8" x2="150.6" y2="-0.4" stroke="#7030b0" stroke-width="1.5"/><line x1="144.2" y1="29.6" x2="157.4" y2="27.2" stroke="#f09010" stroke-width="2.1"/><line x1="90.4" y1="21.0" x2="99.1" y2="15.3" stroke="#f8c010" stroke-width="1.6"/><line x1="24.4" y1="12.5" x2="28.5" y2="23.3" stroke="#500a10" stroke-width="2.2"/><line x1="61.0" y1="33.2" x2="65.0" y2="39.1" stroke="#c020a0" stroke-width="1.3"/><line x1="107.5" y1="21.4" x2="114.3" y2="17.8" stroke="#5060e0" stroke-width="1.8"/><line x1="11.2" y1="3.9" x2="16.1" y2="16.5" stroke="#e01818" stroke-width="2.0"/><line x1="99.8" y1="9.6" x2="111.9" y2="1.6" stroke="#f8c818" stroke-width="1.8"/><line x1="56.9" y1="40.6" x2="59.9" y2="43.9" stroke="#e02040" stroke-width="1.2"/><line x1="6.7" y1="52.0" x2="14.9" y2="59.2" stroke="#d01010" stroke-width="1.8"/><line x1="117.1" y1="30.2" x2="124.7" y2="27.5" stroke="#20b060" stroke-width="1.7"/><line x1="24.9" y1="4.3" x2="28.9" y2="14.8" stroke="#801010" stroke-width="1.7"/></g>
<g filter="url(#wb_streak)"><path d="M67.2,47.6 A8.0,4.8 0 0 0 81.8,49.5" stroke="#b9a9d9" stroke-width="1.5" fill="none"/><path d="M63.7,47.9 A11.7,6.9 0 0 0 84.9,50.6" stroke="#6d5ca3" stroke-width="1.5" fill="none"/><path d="M60.1,48.2 A15.4,9.1 0 0 0 88.0,51.8" stroke="#c9bfe3" stroke-width="1.5" fill="none"/><path d="M56.6,48.4 A19.0,11.3 0 0 0 91.1,53.0" stroke="#8b78b8" stroke-width="1.5" fill="none"/><path d="M53.0,48.7 A22.7,13.5 0 0 0 94.2,54.1" stroke="#54468a" stroke-width="1.5" fill="none"/><path d="M49.4,49.0 A26.4,15.7 0 0 0 97.3,55.2" stroke="#a694cc" stroke-width="1.5" fill="none"/><path d="M45.9,49.3 A30.1,17.9 0 0 0 100.4,56.4" stroke="#d5cbe8" stroke-width="1.5" fill="none"/><path d="M42.3,49.5 A33.8,20.0 0 0 0 103.5,57.5" stroke="#7a63ad" stroke-width="1.5" fill="none"/></g>
<ellipse cx="73.0" cy="45.5" rx="7" ry="3.4" fill="#121a4e" filter="url(#wb_streak)"/>
</g></g>
<rect x="861.5" y="411.0" width="10" height="1.5" fill="#c9b070" opacity=".9"/>
<path d="M854.9,531.9 L878.5,531.9 L879.3,543.0 Q880.4,546.1 884.2,548.0 L884.2,548.8 L849.2,548.8 L849.2,548.0 Q853.0,546.1 854.1,543.0 Z" fill="url(#st_g)"/>
<rect x="854.3" y="539.2" width="24.7" height="2.2" fill="#5a5a5e" opacity=".75"/>
<rect x="799.3" y="469.1" width="134.8" height="63.8" rx="1.6" fill="#111"/>
<rect x="800.3" y="470.1" width="132.8" height="61.8" rx="0.8" fill="url(#mon_gray)"/>
<text><tspan x="388.29" y="40.8" font-size="32.5" fill="#2459a8" stroke="#2459a8" stroke-width="0.55" letter-spacing="0.862">Application</tspan> <tspan x="563.70" y="39.9" font-size="29.2" fill="#2459a8" stroke="#2459a8" stroke-width="1.3" textLength="7.48" lengthAdjust="spacingAndGlyphs">(</tspan> <tspan x="570.97" y="43.6" font-size="33" fill="#2459a8" stroke="#2459a8" stroke-width="0.6" textLength="35.56" lengthAdjust="spacingAndGlyphs" style='font-family:"Liberation Sans", "Noto Sans CJK SC", sans-serif'>Ⅰ</tspan> <tspan x="606.11" y="39.9" font-size="29.2" fill="#2459a8" stroke="#2459a8" stroke-width="1.3" textLength="7.91" lengthAdjust="spacingAndGlyphs">)</tspan></text>
<text><tspan x="294.49" y="69.7" font-size="20.9" fill="#1a1a1a" letter-spacing="0.273">Two devices are connected to a monitor</tspan></text>
<text><tspan x="43.42" y="136.0" font-size="21.8" fill="#1a1a1a" letter-spacing="0.291">Computer</tspan></text>
<text><tspan x="75.17" y="287.8" font-size="21.8" fill="#1a1a1a" textLength="35.20" lengthAdjust="spacingAndGlyphs">PS4</tspan></text>
<text><tspan x="270.85" y="194.7" font-size="21.5" fill="#1a1a1a" letter-spacing="0.099">HDMI</tspan></text>
<text><tspan x="642.86" y="194.7" font-size="21.5" fill="#1a1a1a" letter-spacing="0.130">HDMI</tspan></text>
<text><tspan x="818.56" y="229.9" font-size="21.8" fill="#1a1a1a" letter-spacing="0.785">Monitor</tspan></text>
<text><tspan x="291.14" y="263.4" font-size="17.8" fill="#1a1a1a" textLength="25.70" lengthAdjust="spacingAndGlyphs">PS:</tspan> <tspan x="319.57" y="263.4" font-size="17.8" fill="#1a1a1a" letter-spacing="0.301">Switch button 1, the monitor shows the contents of computer</tspan></text>
<text><tspan x="319.85" y="284.9" font-size="17.8" fill="#1a1a1a" letter-spacing="0.287">Switch button 2, the monitor shows the contents of</tspan> <tspan x="735.59" y="284.9" font-size="17.8" fill="#1a1a1a" textLength="30.01" lengthAdjust="spacingAndGlyphs">PS4</tspan></text>
<text><tspan x="386.62" y="340.6" font-size="32.5" fill="#2459a8" stroke="#2459a8" stroke-width="0.55" letter-spacing="0.841">Application</tspan> <tspan x="561.60" y="339.9" font-size="29.2" fill="#2459a8" stroke="#2459a8" stroke-width="1.3" textLength="7.78" lengthAdjust="spacingAndGlyphs">(</tspan> <tspan x="570.12" y="343.7" font-size="33" fill="#2459a8" stroke="#2459a8" stroke-width="0.6" textLength="33.08" lengthAdjust="spacingAndGlyphs" style='font-family:"Liberation Sans", "Noto Sans CJK SC", sans-serif'>Ⅱ</tspan> <tspan x="604.25" y="339.9" font-size="29.2" fill="#2459a8" stroke="#2459a8" stroke-width="1.3" textLength="7.90" lengthAdjust="spacingAndGlyphs">)</tspan></text>
<text><tspan x="320.08" y="369.7" font-size="20.9" fill="#1a1a1a" letter-spacing="0.337">One device connects two monitors</tspan></text>
<text><tspan x="43.86" y="524.6" font-size="21.8" fill="#1a1a1a" letter-spacing="0.267">Computer</tspan></text>
<text><tspan x="222.15" y="494.7" font-size="21.5" fill="#1a1a1a" letter-spacing="0.018">HDMI</tspan></text>
<text><tspan x="613.86" y="494.7" font-size="21.5" fill="#1a1a1a" letter-spacing="0.146">HDMI</tspan></text>
<text><tspan x="819.60" y="452.7" font-size="21.8" fill="#1a1a1a" letter-spacing="0.471">Monitor A</tspan></text>
<text><tspan x="819.60" y="573.8" font-size="21.8" fill="#1a1a1a" letter-spacing="0.332">Monitor B</tspan></text>
<text><tspan x="253.96" y="573.9" font-size="17.8" fill="#1a1a1a" textLength="25.95" lengthAdjust="spacingAndGlyphs">PS:</tspan> <tspan x="282.38" y="573.9" font-size="17.8" fill="#1a1a1a" letter-spacing="0.308">Monitor A and monitor B cannot display at the same time</tspan></text>
</svg>
</body>
</html>
